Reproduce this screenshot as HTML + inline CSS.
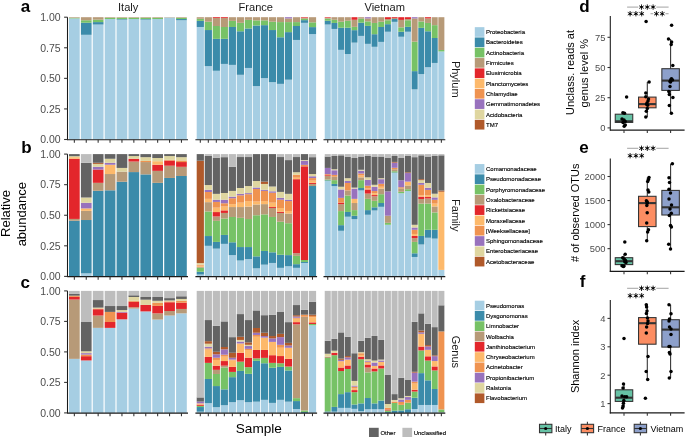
<!DOCTYPE html>
<html><head><meta charset="utf-8"><style>
html,body{margin:0;padding:0;background:#fff;}
svg{display:block;font-family:"Liberation Sans", sans-serif;will-change:transform;}
</style></head><body>
<svg width="685" height="437" viewBox="0 0 685 437">
<rect width="685" height="437" fill="#fff"/>
<rect x="69" y="18.42" width="10.71" height="121.08" fill="#A6CEE3"/>
<rect x="69" y="17.81" width="10.71" height="0.61" fill="#77C266"/>
<rect x="69" y="17.2" width="10.71" height="0.61" fill="#B79A78"/>
<rect x="80.9" y="34.81" width="10.71" height="104.69" fill="#A6CEE3"/>
<rect x="80.9" y="22.7" width="10.71" height="12.11" fill="#3B8BAA"/>
<rect x="80.9" y="20.26" width="10.71" height="2.45" fill="#77C266"/>
<rect x="80.9" y="17.2" width="10.71" height="3.06" fill="#B79A78"/>
<rect x="92.8" y="24.54" width="10.71" height="114.96" fill="#A6CEE3"/>
<rect x="92.8" y="22.09" width="10.71" height="2.45" fill="#3B8BAA"/>
<rect x="92.8" y="19.65" width="10.71" height="2.45" fill="#77C266"/>
<rect x="92.8" y="17.2" width="10.71" height="2.45" fill="#B79A78"/>
<rect x="104.7" y="19.03" width="10.71" height="120.47" fill="#A6CEE3"/>
<rect x="104.7" y="17.81" width="10.71" height="1.22" fill="#77C266"/>
<rect x="104.7" y="17.2" width="10.71" height="0.61" fill="#B79A78"/>
<rect x="116.59" y="19.65" width="10.71" height="119.85" fill="#A6CEE3"/>
<rect x="116.59" y="19.03" width="10.71" height="0.61" fill="#3B8BAA"/>
<rect x="116.59" y="17.81" width="10.71" height="1.22" fill="#77C266"/>
<rect x="116.59" y="17.2" width="10.71" height="0.61" fill="#B79A78"/>
<rect x="128.5" y="19.03" width="10.71" height="120.47" fill="#A6CEE3"/>
<rect x="128.5" y="17.81" width="10.71" height="1.22" fill="#77C266"/>
<rect x="128.5" y="17.2" width="10.71" height="0.61" fill="#B79A78"/>
<rect x="140.4" y="19.65" width="10.71" height="119.85" fill="#A6CEE3"/>
<rect x="140.4" y="19.03" width="10.71" height="0.61" fill="#3B8BAA"/>
<rect x="140.4" y="17.81" width="10.71" height="1.22" fill="#77C266"/>
<rect x="140.4" y="17.2" width="10.71" height="0.61" fill="#B79A78"/>
<rect x="152.29" y="19.03" width="10.71" height="120.47" fill="#A6CEE3"/>
<rect x="152.29" y="17.81" width="10.71" height="1.22" fill="#77C266"/>
<rect x="152.29" y="17.2" width="10.71" height="0.61" fill="#B79A78"/>
<rect x="164.2" y="17.57" width="10.71" height="121.93" fill="#A6CEE3"/>
<rect x="164.2" y="17.2" width="10.71" height="0.37" fill="#B79A78"/>
<rect x="176.09" y="20.26" width="10.71" height="119.24" fill="#A6CEE3"/>
<rect x="176.09" y="19.03" width="10.71" height="1.22" fill="#3B8BAA"/>
<rect x="176.09" y="17.81" width="10.71" height="1.22" fill="#77C266"/>
<rect x="176.09" y="17.2" width="10.71" height="0.61" fill="#B79A78"/>
<line x1="67.5" y1="139.7" x2="188" y2="139.7" stroke="#1a1a1a" stroke-width="1.07"/>
<line x1="74.35" y1="139.7" x2="74.35" y2="142.8" stroke="#333333" stroke-width="1.07"/>
<line x1="86.25" y1="139.7" x2="86.25" y2="142.8" stroke="#333333" stroke-width="1.07"/>
<line x1="98.15" y1="139.7" x2="98.15" y2="142.8" stroke="#333333" stroke-width="1.07"/>
<line x1="110.05" y1="139.7" x2="110.05" y2="142.8" stroke="#333333" stroke-width="1.07"/>
<line x1="121.95" y1="139.7" x2="121.95" y2="142.8" stroke="#333333" stroke-width="1.07"/>
<line x1="133.85" y1="139.7" x2="133.85" y2="142.8" stroke="#333333" stroke-width="1.07"/>
<line x1="145.75" y1="139.7" x2="145.75" y2="142.8" stroke="#333333" stroke-width="1.07"/>
<line x1="157.65" y1="139.7" x2="157.65" y2="142.8" stroke="#333333" stroke-width="1.07"/>
<line x1="169.55" y1="139.7" x2="169.55" y2="142.8" stroke="#333333" stroke-width="1.07"/>
<line x1="181.45" y1="139.7" x2="181.45" y2="142.8" stroke="#333333" stroke-width="1.07"/>
<rect x="196.7" y="26.98" width="7.21" height="112.52" fill="#A6CEE3"/>
<rect x="196.7" y="20.87" width="7.21" height="6.11" fill="#3B8BAA"/>
<rect x="196.7" y="18.79" width="7.21" height="2.08" fill="#77C266"/>
<rect x="196.7" y="17.2" width="7.21" height="1.59" fill="#B79A78"/>
<rect x="204.71" y="66.12" width="7.21" height="73.38" fill="#A6CEE3"/>
<rect x="204.71" y="30.04" width="7.21" height="36.08" fill="#3B8BAA"/>
<rect x="204.71" y="21.73" width="7.21" height="8.32" fill="#77C266"/>
<rect x="204.71" y="17.2" width="7.21" height="4.53" fill="#B79A78"/>
<rect x="212.73" y="70.77" width="7.21" height="68.73" fill="#A6CEE3"/>
<rect x="212.73" y="38.85" width="7.21" height="31.92" fill="#3B8BAA"/>
<rect x="212.73" y="26.01" width="7.21" height="12.84" fill="#77C266"/>
<rect x="212.73" y="18.06" width="7.21" height="7.95" fill="#B79A78"/>
<rect x="212.73" y="17.2" width="7.21" height="0.86" fill="#E3262B"/>
<rect x="220.74" y="63.92" width="7.21" height="75.58" fill="#A6CEE3"/>
<rect x="220.74" y="38.85" width="7.21" height="25.07" fill="#3B8BAA"/>
<rect x="220.74" y="26.98" width="7.21" height="11.86" fill="#77C266"/>
<rect x="220.74" y="18.06" width="7.21" height="8.93" fill="#B79A78"/>
<rect x="220.74" y="17.2" width="7.21" height="0.86" fill="#E3262B"/>
<rect x="228.75" y="64.9" width="7.21" height="74.6" fill="#A6CEE3"/>
<rect x="228.75" y="26.98" width="7.21" height="37.91" fill="#3B8BAA"/>
<rect x="228.75" y="20.87" width="7.21" height="6.11" fill="#77C266"/>
<rect x="228.75" y="17.2" width="7.21" height="3.67" fill="#B79A78"/>
<rect x="236.77" y="74.8" width="7.21" height="64.7" fill="#A6CEE3"/>
<rect x="236.77" y="31.26" width="7.21" height="43.54" fill="#3B8BAA"/>
<rect x="236.77" y="22.83" width="7.21" height="8.44" fill="#77C266"/>
<rect x="236.77" y="17.2" width="7.21" height="5.63" fill="#B79A78"/>
<rect x="244.78" y="67.95" width="7.21" height="71.55" fill="#A6CEE3"/>
<rect x="244.78" y="28.45" width="7.21" height="39.5" fill="#3B8BAA"/>
<rect x="244.78" y="19.89" width="7.21" height="8.56" fill="#77C266"/>
<rect x="244.78" y="17.2" width="7.21" height="2.69" fill="#B79A78"/>
<rect x="252.79" y="86.05" width="7.21" height="53.45" fill="#A6CEE3"/>
<rect x="252.79" y="25.52" width="7.21" height="60.54" fill="#3B8BAA"/>
<rect x="252.79" y="20.38" width="7.21" height="5.14" fill="#77C266"/>
<rect x="252.79" y="17.2" width="7.21" height="3.18" fill="#B79A78"/>
<rect x="260.81" y="78.11" width="7.21" height="61.39" fill="#A6CEE3"/>
<rect x="260.81" y="25.15" width="7.21" height="52.96" fill="#3B8BAA"/>
<rect x="260.81" y="20.38" width="7.21" height="4.77" fill="#77C266"/>
<rect x="260.81" y="17.2" width="7.21" height="3.18" fill="#B79A78"/>
<rect x="268.82" y="82.14" width="7.21" height="57.36" fill="#A6CEE3"/>
<rect x="268.82" y="30.04" width="7.21" height="52.1" fill="#3B8BAA"/>
<rect x="268.82" y="21.73" width="7.21" height="8.32" fill="#77C266"/>
<rect x="268.82" y="17.2" width="7.21" height="4.53" fill="#B79A78"/>
<rect x="276.83" y="83.85" width="7.21" height="55.65" fill="#A6CEE3"/>
<rect x="276.83" y="37.26" width="7.21" height="46.6" fill="#3B8BAA"/>
<rect x="276.83" y="22.09" width="7.21" height="15.17" fill="#77C266"/>
<rect x="276.83" y="17.2" width="7.21" height="4.89" fill="#B79A78"/>
<rect x="284.85" y="79.7" width="7.21" height="59.8" fill="#A6CEE3"/>
<rect x="284.85" y="32.12" width="7.21" height="47.57" fill="#3B8BAA"/>
<rect x="284.85" y="22.09" width="7.21" height="10.03" fill="#77C266"/>
<rect x="284.85" y="18.42" width="7.21" height="3.67" fill="#B79A78"/>
<rect x="284.85" y="17.2" width="7.21" height="1.22" fill="#9872BD"/>
<rect x="292.86" y="39.95" width="7.21" height="99.55" fill="#A6CEE3"/>
<rect x="292.86" y="26.01" width="7.21" height="13.94" fill="#3B8BAA"/>
<rect x="292.86" y="22.09" width="7.21" height="3.91" fill="#77C266"/>
<rect x="292.86" y="17.2" width="7.21" height="4.89" fill="#B79A78"/>
<rect x="300.87" y="22.83" width="7.21" height="116.67" fill="#A6CEE3"/>
<rect x="300.87" y="20.14" width="7.21" height="2.69" fill="#3B8BAA"/>
<rect x="300.87" y="18.79" width="7.21" height="1.35" fill="#77C266"/>
<rect x="300.87" y="17.81" width="7.21" height="0.98" fill="#B79A78"/>
<rect x="300.87" y="17.2" width="7.21" height="0.61" fill="#E3262B"/>
<rect x="308.89" y="34.08" width="7.21" height="105.42" fill="#A6CEE3"/>
<rect x="308.89" y="27.11" width="7.21" height="6.97" fill="#3B8BAA"/>
<rect x="308.89" y="22.34" width="7.21" height="4.77" fill="#77C266"/>
<rect x="308.89" y="17.2" width="7.21" height="5.14" fill="#B79A78"/>
<line x1="195.4" y1="139.7" x2="317.1" y2="139.7" stroke="#1a1a1a" stroke-width="1.07"/>
<line x1="200.31" y1="139.7" x2="200.31" y2="142.8" stroke="#333333" stroke-width="1.07"/>
<line x1="208.32" y1="139.7" x2="208.32" y2="142.8" stroke="#333333" stroke-width="1.07"/>
<line x1="216.33" y1="139.7" x2="216.33" y2="142.8" stroke="#333333" stroke-width="1.07"/>
<line x1="224.35" y1="139.7" x2="224.35" y2="142.8" stroke="#333333" stroke-width="1.07"/>
<line x1="232.36" y1="139.7" x2="232.36" y2="142.8" stroke="#333333" stroke-width="1.07"/>
<line x1="240.37" y1="139.7" x2="240.37" y2="142.8" stroke="#333333" stroke-width="1.07"/>
<line x1="248.39" y1="139.7" x2="248.39" y2="142.8" stroke="#333333" stroke-width="1.07"/>
<line x1="256.4" y1="139.7" x2="256.4" y2="142.8" stroke="#333333" stroke-width="1.07"/>
<line x1="264.41" y1="139.7" x2="264.41" y2="142.8" stroke="#333333" stroke-width="1.07"/>
<line x1="272.43" y1="139.7" x2="272.43" y2="142.8" stroke="#333333" stroke-width="1.07"/>
<line x1="280.44" y1="139.7" x2="280.44" y2="142.8" stroke="#333333" stroke-width="1.07"/>
<line x1="288.45" y1="139.7" x2="288.45" y2="142.8" stroke="#333333" stroke-width="1.07"/>
<line x1="296.47" y1="139.7" x2="296.47" y2="142.8" stroke="#333333" stroke-width="1.07"/>
<line x1="304.48" y1="139.7" x2="304.48" y2="142.8" stroke="#333333" stroke-width="1.07"/>
<line x1="312.49" y1="139.7" x2="312.49" y2="142.8" stroke="#333333" stroke-width="1.07"/>
<rect x="324.73" y="24.54" width="6.02" height="114.96" fill="#A6CEE3"/>
<rect x="324.73" y="20.75" width="6.02" height="3.79" fill="#3B8BAA"/>
<rect x="324.73" y="18.67" width="6.02" height="2.08" fill="#77C266"/>
<rect x="324.73" y="17.81" width="6.02" height="0.86" fill="#B79A78"/>
<rect x="324.73" y="17.2" width="6.02" height="0.61" fill="#E3262B"/>
<rect x="331.42" y="28.94" width="6.02" height="110.56" fill="#A6CEE3"/>
<rect x="331.42" y="22.95" width="6.02" height="5.99" fill="#3B8BAA"/>
<rect x="331.42" y="19.77" width="6.02" height="3.18" fill="#77C266"/>
<rect x="331.42" y="17.2" width="6.02" height="2.57" fill="#B79A78"/>
<rect x="338.1" y="49.85" width="6.02" height="89.65" fill="#A6CEE3"/>
<rect x="338.1" y="27.72" width="6.02" height="22.14" fill="#3B8BAA"/>
<rect x="338.1" y="21.73" width="6.02" height="5.99" fill="#77C266"/>
<rect x="338.1" y="17.2" width="6.02" height="4.53" fill="#B79A78"/>
<rect x="344.78" y="54.01" width="6.02" height="85.49" fill="#A6CEE3"/>
<rect x="344.78" y="27.72" width="6.02" height="26.29" fill="#3B8BAA"/>
<rect x="344.78" y="20.75" width="6.02" height="6.97" fill="#77C266"/>
<rect x="344.78" y="17.2" width="6.02" height="3.55" fill="#B79A78"/>
<rect x="351.47" y="42.64" width="6.02" height="96.86" fill="#A6CEE3"/>
<rect x="351.47" y="30.16" width="6.02" height="12.47" fill="#3B8BAA"/>
<rect x="351.47" y="26.86" width="6.02" height="3.3" fill="#77C266"/>
<rect x="351.47" y="19.77" width="6.02" height="7.09" fill="#B79A78"/>
<rect x="351.47" y="17.2" width="6.02" height="2.57" fill="#E3262B"/>
<rect x="358.15" y="35.91" width="6.02" height="103.59" fill="#A6CEE3"/>
<rect x="358.15" y="22.7" width="6.02" height="13.21" fill="#3B8BAA"/>
<rect x="358.15" y="18.67" width="6.02" height="4.04" fill="#77C266"/>
<rect x="358.15" y="17.2" width="6.02" height="1.47" fill="#B79A78"/>
<rect x="364.83" y="43.86" width="6.02" height="95.64" fill="#A6CEE3"/>
<rect x="364.83" y="25.88" width="6.02" height="17.98" fill="#3B8BAA"/>
<rect x="364.83" y="21.36" width="6.02" height="4.53" fill="#77C266"/>
<rect x="364.83" y="18.42" width="6.02" height="2.94" fill="#B79A78"/>
<rect x="364.83" y="17.2" width="6.02" height="1.22" fill="#9872BD"/>
<rect x="371.52" y="46.8" width="6.02" height="92.7" fill="#A6CEE3"/>
<rect x="371.52" y="34.2" width="6.02" height="12.6" fill="#3B8BAA"/>
<rect x="371.52" y="22.95" width="6.02" height="11.25" fill="#77C266"/>
<rect x="371.52" y="17.2" width="6.02" height="5.75" fill="#B79A78"/>
<rect x="378.2" y="41.9" width="6.02" height="97.6" fill="#A6CEE3"/>
<rect x="378.2" y="26.98" width="6.02" height="14.92" fill="#3B8BAA"/>
<rect x="378.2" y="21.73" width="6.02" height="5.26" fill="#77C266"/>
<rect x="378.2" y="17.2" width="6.02" height="4.53" fill="#B79A78"/>
<rect x="384.88" y="31.75" width="6.02" height="107.75" fill="#A6CEE3"/>
<rect x="384.88" y="24.17" width="6.02" height="7.58" fill="#3B8BAA"/>
<rect x="384.88" y="20.26" width="6.02" height="3.91" fill="#77C266"/>
<rect x="384.88" y="19.03" width="6.02" height="1.22" fill="#B79A78"/>
<rect x="384.88" y="17.2" width="6.02" height="1.83" fill="#E3262B"/>
<rect x="391.57" y="21.85" width="6.02" height="117.65" fill="#A6CEE3"/>
<rect x="391.57" y="19.03" width="6.02" height="2.81" fill="#3B8BAA"/>
<rect x="391.57" y="18.42" width="6.02" height="0.61" fill="#77C266"/>
<rect x="391.57" y="17.2" width="6.02" height="1.22" fill="#E3262B"/>
<rect x="398.25" y="36.77" width="6.02" height="102.73" fill="#A6CEE3"/>
<rect x="398.25" y="31.75" width="6.02" height="5.01" fill="#3B8BAA"/>
<rect x="398.25" y="27.35" width="6.02" height="4.4" fill="#77C266"/>
<rect x="398.25" y="19.89" width="6.02" height="7.46" fill="#B79A78"/>
<rect x="398.25" y="17.2" width="6.02" height="2.69" fill="#E3262B"/>
<rect x="404.93" y="31.75" width="6.02" height="107.75" fill="#A6CEE3"/>
<rect x="404.93" y="26.86" width="6.02" height="4.89" fill="#3B8BAA"/>
<rect x="404.93" y="20.26" width="6.02" height="6.6" fill="#77C266"/>
<rect x="404.93" y="19.03" width="6.02" height="1.22" fill="#B79A78"/>
<rect x="404.93" y="17.2" width="6.02" height="1.83" fill="#E3262B"/>
<rect x="411.62" y="89.36" width="6.02" height="50.14" fill="#A6CEE3"/>
<rect x="411.62" y="71.13" width="6.02" height="18.22" fill="#3B8BAA"/>
<rect x="411.62" y="41.66" width="6.02" height="29.47" fill="#77C266"/>
<rect x="411.62" y="18.42" width="6.02" height="23.24" fill="#B79A78"/>
<rect x="411.62" y="17.2" width="6.02" height="1.22" fill="#9872BD"/>
<rect x="418.3" y="74.07" width="6.02" height="65.43" fill="#A6CEE3"/>
<rect x="418.3" y="27.84" width="6.02" height="46.23" fill="#3B8BAA"/>
<rect x="418.3" y="21.48" width="6.02" height="6.36" fill="#77C266"/>
<rect x="418.3" y="17.2" width="6.02" height="4.28" fill="#B79A78"/>
<rect x="424.98" y="67.22" width="6.02" height="72.28" fill="#A6CEE3"/>
<rect x="424.98" y="31.26" width="6.02" height="35.96" fill="#3B8BAA"/>
<rect x="424.98" y="22.95" width="6.02" height="8.32" fill="#77C266"/>
<rect x="424.98" y="18.42" width="6.02" height="4.53" fill="#B79A78"/>
<rect x="424.98" y="17.2" width="6.02" height="1.22" fill="#E3262B"/>
<rect x="431.67" y="62.94" width="6.02" height="76.56" fill="#A6CEE3"/>
<rect x="431.67" y="37.99" width="6.02" height="24.95" fill="#3B8BAA"/>
<rect x="431.67" y="25.15" width="6.02" height="12.84" fill="#77C266"/>
<rect x="431.67" y="17.2" width="6.02" height="7.95" fill="#B79A78"/>
<rect x="438.35" y="51.44" width="6.02" height="88.06" fill="#A6CEE3"/>
<rect x="438.35" y="49.98" width="6.02" height="1.47" fill="#77C266"/>
<rect x="438.35" y="17.2" width="6.02" height="32.78" fill="#B79A78"/>
<line x1="323.5" y1="139.7" x2="445.3" y2="139.7" stroke="#1a1a1a" stroke-width="1.07"/>
<line x1="327.74" y1="139.7" x2="327.74" y2="142.8" stroke="#333333" stroke-width="1.07"/>
<line x1="334.42" y1="139.7" x2="334.42" y2="142.8" stroke="#333333" stroke-width="1.07"/>
<line x1="341.11" y1="139.7" x2="341.11" y2="142.8" stroke="#333333" stroke-width="1.07"/>
<line x1="347.79" y1="139.7" x2="347.79" y2="142.8" stroke="#333333" stroke-width="1.07"/>
<line x1="354.47" y1="139.7" x2="354.47" y2="142.8" stroke="#333333" stroke-width="1.07"/>
<line x1="361.16" y1="139.7" x2="361.16" y2="142.8" stroke="#333333" stroke-width="1.07"/>
<line x1="367.84" y1="139.7" x2="367.84" y2="142.8" stroke="#333333" stroke-width="1.07"/>
<line x1="374.52" y1="139.7" x2="374.52" y2="142.8" stroke="#333333" stroke-width="1.07"/>
<line x1="381.21" y1="139.7" x2="381.21" y2="142.8" stroke="#333333" stroke-width="1.07"/>
<line x1="387.89" y1="139.7" x2="387.89" y2="142.8" stroke="#333333" stroke-width="1.07"/>
<line x1="394.57" y1="139.7" x2="394.57" y2="142.8" stroke="#333333" stroke-width="1.07"/>
<line x1="401.26" y1="139.7" x2="401.26" y2="142.8" stroke="#333333" stroke-width="1.07"/>
<line x1="407.94" y1="139.7" x2="407.94" y2="142.8" stroke="#333333" stroke-width="1.07"/>
<line x1="414.62" y1="139.7" x2="414.62" y2="142.8" stroke="#333333" stroke-width="1.07"/>
<line x1="421.31" y1="139.7" x2="421.31" y2="142.8" stroke="#333333" stroke-width="1.07"/>
<line x1="427.99" y1="139.7" x2="427.99" y2="142.8" stroke="#333333" stroke-width="1.07"/>
<line x1="434.67" y1="139.7" x2="434.67" y2="142.8" stroke="#333333" stroke-width="1.07"/>
<line x1="441.36" y1="139.7" x2="441.36" y2="142.8" stroke="#333333" stroke-width="1.07"/>
<line x1="67.5" y1="17.2" x2="67.5" y2="140.2" stroke="#1a1a1a" stroke-width="1.07"/>
<line x1="64.1" y1="139.5" x2="67.5" y2="139.5" stroke="#333333" stroke-width="1.07"/>
<text x="60.6" y="143.3" font-size="10.5" fill="#4d4d4d" text-anchor="end">0.00</text>
<line x1="64.1" y1="108.92" x2="67.5" y2="108.92" stroke="#333333" stroke-width="1.07"/>
<text x="60.6" y="112.72" font-size="10.5" fill="#4d4d4d" text-anchor="end">0.25</text>
<line x1="64.1" y1="78.35" x2="67.5" y2="78.35" stroke="#333333" stroke-width="1.07"/>
<text x="60.6" y="82.15" font-size="10.5" fill="#4d4d4d" text-anchor="end">0.50</text>
<line x1="64.1" y1="47.78" x2="67.5" y2="47.78" stroke="#333333" stroke-width="1.07"/>
<text x="60.6" y="51.58" font-size="10.5" fill="#4d4d4d" text-anchor="end">0.75</text>
<line x1="64.1" y1="17.2" x2="67.5" y2="17.2" stroke="#333333" stroke-width="1.07"/>
<text x="60.6" y="21" font-size="10.5" fill="#4d4d4d" text-anchor="end">1.00</text>
<rect x="69" y="220.75" width="10.71" height="55.65" fill="#3B8BAA"/>
<rect x="69" y="218.92" width="10.71" height="1.83" fill="#B79A78"/>
<rect x="69" y="158.75" width="10.71" height="60.17" fill="#E3262B"/>
<rect x="69" y="157.16" width="10.71" height="1.59" fill="#FDB96B"/>
<rect x="69" y="156.18" width="10.71" height="0.98" fill="#DFD6A0"/>
<rect x="69" y="154.1" width="10.71" height="2.08" fill="#636363"/>
<rect x="80.9" y="273.34" width="10.71" height="3.06" fill="#A6CEE3"/>
<rect x="80.9" y="220.02" width="10.71" height="53.32" fill="#3B8BAA"/>
<rect x="80.9" y="210.85" width="10.71" height="9.17" fill="#B79A78"/>
<rect x="80.9" y="208.4" width="10.71" height="2.45" fill="#FDB96B"/>
<rect x="80.9" y="202.78" width="10.71" height="5.63" fill="#9872BD"/>
<rect x="80.9" y="197.52" width="10.71" height="5.26" fill="#DFD6A0"/>
<rect x="80.9" y="162.78" width="10.71" height="34.73" fill="#636363"/>
<rect x="80.9" y="154.1" width="10.71" height="8.68" fill="#BDBDBD"/>
<rect x="92.8" y="190.79" width="10.71" height="85.61" fill="#3B8BAA"/>
<rect x="92.8" y="182.84" width="10.71" height="7.95" fill="#B79A78"/>
<rect x="92.8" y="169.51" width="10.71" height="13.33" fill="#E3262B"/>
<rect x="92.8" y="166.82" width="10.71" height="2.69" fill="#9872BD"/>
<rect x="92.8" y="163.88" width="10.71" height="2.94" fill="#DFD6A0"/>
<rect x="92.8" y="162.78" width="10.71" height="1.1" fill="#B0592A"/>
<rect x="92.8" y="154.1" width="10.71" height="8.68" fill="#636363"/>
<rect x="104.7" y="190.3" width="10.71" height="86.1" fill="#3B8BAA"/>
<rect x="104.7" y="174.03" width="10.71" height="16.27" fill="#B79A78"/>
<rect x="104.7" y="164.74" width="10.71" height="9.29" fill="#FDB96B"/>
<rect x="104.7" y="162.78" width="10.71" height="1.96" fill="#9872BD"/>
<rect x="104.7" y="158.75" width="10.71" height="4.04" fill="#DFD6A0"/>
<rect x="104.7" y="154.1" width="10.71" height="4.65" fill="#636363"/>
<rect x="116.59" y="181.74" width="10.71" height="94.66" fill="#3B8BAA"/>
<rect x="116.59" y="171.59" width="10.71" height="10.15" fill="#B79A78"/>
<rect x="116.59" y="167.92" width="10.71" height="3.67" fill="#DFD6A0"/>
<rect x="116.59" y="154.1" width="10.71" height="13.82" fill="#636363"/>
<rect x="128.5" y="172.08" width="10.71" height="104.32" fill="#3B8BAA"/>
<rect x="128.5" y="161.56" width="10.71" height="10.52" fill="#B79A78"/>
<rect x="128.5" y="158.75" width="10.71" height="2.81" fill="#E3262B"/>
<rect x="128.5" y="156.06" width="10.71" height="2.69" fill="#DFD6A0"/>
<rect x="128.5" y="154.1" width="10.71" height="1.96" fill="#636363"/>
<rect x="140.4" y="174.4" width="10.71" height="102" fill="#3B8BAA"/>
<rect x="140.4" y="162.05" width="10.71" height="12.35" fill="#B79A78"/>
<rect x="140.4" y="160.95" width="10.71" height="1.1" fill="#EF9350"/>
<rect x="140.4" y="157.16" width="10.71" height="3.79" fill="#DFD6A0"/>
<rect x="140.4" y="154.1" width="10.71" height="3.06" fill="#636363"/>
<rect x="152.29" y="182.84" width="10.71" height="93.56" fill="#3B8BAA"/>
<rect x="152.29" y="170.86" width="10.71" height="11.99" fill="#B79A78"/>
<rect x="152.29" y="164.74" width="10.71" height="6.12" fill="#E3262B"/>
<rect x="152.29" y="161.19" width="10.71" height="3.55" fill="#FDB96B"/>
<rect x="152.29" y="158.01" width="10.71" height="3.18" fill="#DFD6A0"/>
<rect x="152.29" y="154.1" width="10.71" height="3.91" fill="#636363"/>
<rect x="164.2" y="177.95" width="10.71" height="98.45" fill="#3B8BAA"/>
<rect x="164.2" y="165.72" width="10.71" height="12.23" fill="#B79A78"/>
<rect x="164.2" y="160.58" width="10.71" height="5.14" fill="#E3262B"/>
<rect x="164.2" y="159.85" width="10.71" height="0.73" fill="#EF9350"/>
<rect x="164.2" y="156.06" width="10.71" height="3.79" fill="#DFD6A0"/>
<rect x="164.2" y="154.1" width="10.71" height="1.96" fill="#636363"/>
<rect x="176.09" y="175.99" width="10.71" height="100.41" fill="#3B8BAA"/>
<rect x="176.09" y="166.82" width="10.71" height="9.17" fill="#B79A78"/>
<rect x="176.09" y="162.05" width="10.71" height="4.77" fill="#E3262B"/>
<rect x="176.09" y="160.46" width="10.71" height="1.59" fill="#EF9350"/>
<rect x="176.09" y="157.16" width="10.71" height="3.3" fill="#DFD6A0"/>
<rect x="176.09" y="154.1" width="10.71" height="3.06" fill="#636363"/>
<line x1="67.5" y1="276.6" x2="188" y2="276.6" stroke="#1a1a1a" stroke-width="1.07"/>
<line x1="74.35" y1="276.6" x2="74.35" y2="279.7" stroke="#333333" stroke-width="1.07"/>
<line x1="86.25" y1="276.6" x2="86.25" y2="279.7" stroke="#333333" stroke-width="1.07"/>
<line x1="98.15" y1="276.6" x2="98.15" y2="279.7" stroke="#333333" stroke-width="1.07"/>
<line x1="110.05" y1="276.6" x2="110.05" y2="279.7" stroke="#333333" stroke-width="1.07"/>
<line x1="121.95" y1="276.6" x2="121.95" y2="279.7" stroke="#333333" stroke-width="1.07"/>
<line x1="133.85" y1="276.6" x2="133.85" y2="279.7" stroke="#333333" stroke-width="1.07"/>
<line x1="145.75" y1="276.6" x2="145.75" y2="279.7" stroke="#333333" stroke-width="1.07"/>
<line x1="157.65" y1="276.6" x2="157.65" y2="279.7" stroke="#333333" stroke-width="1.07"/>
<line x1="169.55" y1="276.6" x2="169.55" y2="279.7" stroke="#333333" stroke-width="1.07"/>
<line x1="181.45" y1="276.6" x2="181.45" y2="279.7" stroke="#333333" stroke-width="1.07"/>
<rect x="196.7" y="274.57" width="7.21" height="1.83" fill="#A6CEE3"/>
<rect x="196.7" y="271.75" width="7.21" height="2.81" fill="#3B8BAA"/>
<rect x="196.7" y="267.72" width="7.21" height="4.04" fill="#77C266"/>
<rect x="196.7" y="266.86" width="7.21" height="0.86" fill="#B79A78"/>
<rect x="196.7" y="265.64" width="7.21" height="1.22" fill="#FDB96B"/>
<rect x="196.7" y="264.66" width="7.21" height="0.98" fill="#EF9350"/>
<rect x="196.7" y="263.07" width="7.21" height="1.59" fill="#DFD6A0"/>
<rect x="196.7" y="160.7" width="7.21" height="102.37" fill="#B0592A"/>
<rect x="196.7" y="154.1" width="7.21" height="6.6" fill="#636363"/>
<rect x="204.71" y="245.82" width="7.21" height="30.57" fill="#A6CEE3"/>
<rect x="204.71" y="236.04" width="7.21" height="9.78" fill="#3B8BAA"/>
<rect x="204.71" y="211.46" width="7.21" height="24.58" fill="#77C266"/>
<rect x="204.71" y="202.16" width="7.21" height="9.29" fill="#B79A78"/>
<rect x="204.71" y="198.86" width="7.21" height="3.3" fill="#FDB96B"/>
<rect x="204.71" y="192.01" width="7.21" height="6.85" fill="#EF9350"/>
<rect x="204.71" y="189.81" width="7.21" height="2.2" fill="#9872BD"/>
<rect x="204.71" y="185.04" width="7.21" height="4.77" fill="#DFD6A0"/>
<rect x="204.71" y="155.93" width="7.21" height="29.11" fill="#636363"/>
<rect x="204.71" y="154.1" width="7.21" height="1.83" fill="#BDBDBD"/>
<rect x="212.73" y="248.64" width="7.21" height="27.76" fill="#A6CEE3"/>
<rect x="212.73" y="241.91" width="7.21" height="6.73" fill="#3B8BAA"/>
<rect x="212.73" y="220.88" width="7.21" height="21.04" fill="#77C266"/>
<rect x="212.73" y="216.47" width="7.21" height="4.4" fill="#B79A78"/>
<rect x="212.73" y="212.07" width="7.21" height="4.4" fill="#E3262B"/>
<rect x="212.73" y="207.67" width="7.21" height="4.4" fill="#FDB96B"/>
<rect x="212.73" y="201.92" width="7.21" height="5.75" fill="#EF9350"/>
<rect x="212.73" y="199.72" width="7.21" height="2.2" fill="#9872BD"/>
<rect x="212.73" y="193.85" width="7.21" height="5.87" fill="#DFD6A0"/>
<rect x="212.73" y="157.65" width="7.21" height="36.2" fill="#636363"/>
<rect x="212.73" y="154.1" width="7.21" height="3.55" fill="#BDBDBD"/>
<rect x="220.74" y="243.87" width="7.21" height="32.53" fill="#A6CEE3"/>
<rect x="220.74" y="234.94" width="7.21" height="8.93" fill="#3B8BAA"/>
<rect x="220.74" y="218.55" width="7.21" height="16.39" fill="#77C266"/>
<rect x="220.74" y="212.93" width="7.21" height="5.63" fill="#B79A78"/>
<rect x="220.74" y="210.36" width="7.21" height="2.57" fill="#E3262B"/>
<rect x="220.74" y="206.57" width="7.21" height="3.79" fill="#FDB96B"/>
<rect x="220.74" y="203.26" width="7.21" height="3.3" fill="#EF9350"/>
<rect x="220.74" y="199.72" width="7.21" height="3.55" fill="#9872BD"/>
<rect x="220.74" y="192.99" width="7.21" height="6.73" fill="#DFD6A0"/>
<rect x="220.74" y="157.16" width="7.21" height="35.83" fill="#636363"/>
<rect x="220.74" y="154.1" width="7.21" height="3.06" fill="#BDBDBD"/>
<rect x="228.75" y="255.12" width="7.21" height="21.28" fill="#A6CEE3"/>
<rect x="228.75" y="242.28" width="7.21" height="12.84" fill="#3B8BAA"/>
<rect x="228.75" y="216.96" width="7.21" height="25.32" fill="#77C266"/>
<rect x="228.75" y="207.06" width="7.21" height="9.91" fill="#B79A78"/>
<rect x="228.75" y="204.12" width="7.21" height="2.94" fill="#FDB96B"/>
<rect x="228.75" y="198.25" width="7.21" height="5.87" fill="#EF9350"/>
<rect x="228.75" y="196.66" width="7.21" height="1.59" fill="#9872BD"/>
<rect x="228.75" y="190.91" width="7.21" height="5.75" fill="#DFD6A0"/>
<rect x="228.75" y="166.7" width="7.21" height="24.22" fill="#636363"/>
<rect x="228.75" y="154.1" width="7.21" height="12.6" fill="#BDBDBD"/>
<rect x="236.77" y="260.5" width="7.21" height="15.9" fill="#A6CEE3"/>
<rect x="236.77" y="247.05" width="7.21" height="13.45" fill="#3B8BAA"/>
<rect x="236.77" y="217.82" width="7.21" height="29.23" fill="#77C266"/>
<rect x="236.77" y="207.06" width="7.21" height="10.76" fill="#B79A78"/>
<rect x="236.77" y="202.65" width="7.21" height="4.4" fill="#FDB96B"/>
<rect x="236.77" y="195.32" width="7.21" height="7.34" fill="#EF9350"/>
<rect x="236.77" y="193.85" width="7.21" height="1.47" fill="#9872BD"/>
<rect x="236.77" y="187.98" width="7.21" height="5.87" fill="#DFD6A0"/>
<rect x="236.77" y="157.04" width="7.21" height="30.94" fill="#636363"/>
<rect x="236.77" y="154.1" width="7.21" height="2.94" fill="#BDBDBD"/>
<rect x="244.78" y="259.03" width="7.21" height="17.37" fill="#A6CEE3"/>
<rect x="244.78" y="247.05" width="7.21" height="11.99" fill="#3B8BAA"/>
<rect x="244.78" y="219.04" width="7.21" height="28.01" fill="#77C266"/>
<rect x="244.78" y="206.57" width="7.21" height="12.47" fill="#B79A78"/>
<rect x="244.78" y="201.06" width="7.21" height="5.5" fill="#FDB96B"/>
<rect x="244.78" y="194.21" width="7.21" height="6.85" fill="#EF9350"/>
<rect x="244.78" y="193.11" width="7.21" height="1.1" fill="#9872BD"/>
<rect x="244.78" y="186.02" width="7.21" height="7.09" fill="#DFD6A0"/>
<rect x="244.78" y="157.04" width="7.21" height="28.99" fill="#636363"/>
<rect x="244.78" y="154.1" width="7.21" height="2.94" fill="#BDBDBD"/>
<rect x="252.79" y="268.33" width="7.21" height="8.07" fill="#A6CEE3"/>
<rect x="252.79" y="256.34" width="7.21" height="11.99" fill="#3B8BAA"/>
<rect x="252.79" y="215.25" width="7.21" height="41.09" fill="#77C266"/>
<rect x="252.79" y="204.49" width="7.21" height="10.76" fill="#B79A78"/>
<rect x="252.79" y="201.55" width="7.21" height="2.94" fill="#FDB96B"/>
<rect x="252.79" y="188.96" width="7.21" height="12.6" fill="#EF9350"/>
<rect x="252.79" y="187.49" width="7.21" height="1.47" fill="#9872BD"/>
<rect x="252.79" y="181.01" width="7.21" height="6.48" fill="#DFD6A0"/>
<rect x="252.79" y="154.1" width="7.21" height="26.91" fill="#636363"/>
<rect x="260.81" y="264.66" width="7.21" height="11.74" fill="#A6CEE3"/>
<rect x="260.81" y="250.96" width="7.21" height="13.7" fill="#3B8BAA"/>
<rect x="260.81" y="214.39" width="7.21" height="36.57" fill="#77C266"/>
<rect x="260.81" y="204.12" width="7.21" height="10.27" fill="#B79A78"/>
<rect x="260.81" y="201.06" width="7.21" height="3.06" fill="#FDB96B"/>
<rect x="260.81" y="190.91" width="7.21" height="10.15" fill="#EF9350"/>
<rect x="260.81" y="189.81" width="7.21" height="1.1" fill="#9872BD"/>
<rect x="260.81" y="183.94" width="7.21" height="5.87" fill="#DFD6A0"/>
<rect x="260.81" y="181.62" width="7.21" height="2.32" fill="#B0592A"/>
<rect x="260.81" y="154.1" width="7.21" height="27.52" fill="#636363"/>
<rect x="268.82" y="262.95" width="7.21" height="13.45" fill="#A6CEE3"/>
<rect x="268.82" y="252.31" width="7.21" height="10.64" fill="#3B8BAA"/>
<rect x="268.82" y="216.96" width="7.21" height="35.34" fill="#77C266"/>
<rect x="268.82" y="208.03" width="7.21" height="8.93" fill="#B79A78"/>
<rect x="268.82" y="207.06" width="7.21" height="0.98" fill="#E3262B"/>
<rect x="268.82" y="202.65" width="7.21" height="4.4" fill="#FDB96B"/>
<rect x="268.82" y="192.75" width="7.21" height="9.91" fill="#EF9350"/>
<rect x="268.82" y="191.28" width="7.21" height="1.47" fill="#9872BD"/>
<rect x="268.82" y="186.51" width="7.21" height="4.77" fill="#DFD6A0"/>
<rect x="268.82" y="154.1" width="7.21" height="32.41" fill="#636363"/>
<rect x="276.83" y="267.84" width="7.21" height="8.56" fill="#A6CEE3"/>
<rect x="276.83" y="254.75" width="7.21" height="13.09" fill="#3B8BAA"/>
<rect x="276.83" y="221.73" width="7.21" height="33.02" fill="#77C266"/>
<rect x="276.83" y="212.93" width="7.21" height="8.81" fill="#B79A78"/>
<rect x="276.83" y="211.83" width="7.21" height="1.1" fill="#E3262B"/>
<rect x="276.83" y="208.03" width="7.21" height="3.79" fill="#FDB96B"/>
<rect x="276.83" y="199.72" width="7.21" height="8.32" fill="#EF9350"/>
<rect x="276.83" y="197.76" width="7.21" height="1.96" fill="#9872BD"/>
<rect x="276.83" y="191.89" width="7.21" height="5.87" fill="#DFD6A0"/>
<rect x="276.83" y="157.04" width="7.21" height="34.86" fill="#636363"/>
<rect x="276.83" y="154.1" width="7.21" height="2.94" fill="#BDBDBD"/>
<rect x="284.85" y="266.25" width="7.21" height="10.15" fill="#A6CEE3"/>
<rect x="284.85" y="255.12" width="7.21" height="11.13" fill="#3B8BAA"/>
<rect x="284.85" y="223.2" width="7.21" height="31.92" fill="#77C266"/>
<rect x="284.85" y="213.54" width="7.21" height="9.66" fill="#B79A78"/>
<rect x="284.85" y="210.97" width="7.21" height="2.57" fill="#FDB96B"/>
<rect x="284.85" y="201.06" width="7.21" height="9.91" fill="#EF9350"/>
<rect x="284.85" y="199.72" width="7.21" height="1.35" fill="#9872BD"/>
<rect x="284.85" y="193.85" width="7.21" height="5.87" fill="#DFD6A0"/>
<rect x="284.85" y="160.09" width="7.21" height="33.75" fill="#636363"/>
<rect x="284.85" y="154.1" width="7.21" height="5.99" fill="#BDBDBD"/>
<rect x="292.86" y="267.84" width="7.21" height="8.56" fill="#A6CEE3"/>
<rect x="292.86" y="264.17" width="7.21" height="3.67" fill="#3B8BAA"/>
<rect x="292.86" y="255.85" width="7.21" height="8.32" fill="#77C266"/>
<rect x="292.86" y="253.16" width="7.21" height="2.69" fill="#B79A78"/>
<rect x="292.86" y="179.17" width="7.21" height="73.99" fill="#E3262B"/>
<rect x="292.86" y="177.7" width="7.21" height="1.47" fill="#FDB96B"/>
<rect x="292.86" y="174.65" width="7.21" height="3.06" fill="#EF9350"/>
<rect x="292.86" y="172.2" width="7.21" height="2.45" fill="#DFD6A0"/>
<rect x="292.86" y="157.04" width="7.21" height="15.17" fill="#636363"/>
<rect x="292.86" y="154.1" width="7.21" height="2.94" fill="#BDBDBD"/>
<rect x="300.87" y="262.95" width="7.21" height="13.45" fill="#A6CEE3"/>
<rect x="300.87" y="261.97" width="7.21" height="0.98" fill="#3B8BAA"/>
<rect x="300.87" y="260.01" width="7.21" height="1.96" fill="#77C266"/>
<rect x="300.87" y="166.33" width="7.21" height="93.68" fill="#E3262B"/>
<rect x="300.87" y="164.86" width="7.21" height="1.47" fill="#EF9350"/>
<rect x="300.87" y="160.83" width="7.21" height="4.04" fill="#9872BD"/>
<rect x="300.87" y="160.09" width="7.21" height="0.73" fill="#DFD6A0"/>
<rect x="300.87" y="154.1" width="7.21" height="5.99" fill="#636363"/>
<rect x="308.89" y="186.02" width="7.21" height="90.38" fill="#3B8BAA"/>
<rect x="308.89" y="183.94" width="7.21" height="2.08" fill="#B79A78"/>
<rect x="308.89" y="182.84" width="7.21" height="1.1" fill="#E3262B"/>
<rect x="308.89" y="180.64" width="7.21" height="2.2" fill="#FDB96B"/>
<rect x="308.89" y="178.07" width="7.21" height="2.57" fill="#EF9350"/>
<rect x="308.89" y="176.24" width="7.21" height="1.83" fill="#9872BD"/>
<rect x="308.89" y="174.03" width="7.21" height="2.2" fill="#DFD6A0"/>
<rect x="308.89" y="157.16" width="7.21" height="16.88" fill="#636363"/>
<rect x="308.89" y="154.1" width="7.21" height="3.06" fill="#BDBDBD"/>
<line x1="195.4" y1="276.6" x2="317.1" y2="276.6" stroke="#1a1a1a" stroke-width="1.07"/>
<line x1="200.31" y1="276.6" x2="200.31" y2="279.7" stroke="#333333" stroke-width="1.07"/>
<line x1="208.32" y1="276.6" x2="208.32" y2="279.7" stroke="#333333" stroke-width="1.07"/>
<line x1="216.33" y1="276.6" x2="216.33" y2="279.7" stroke="#333333" stroke-width="1.07"/>
<line x1="224.35" y1="276.6" x2="224.35" y2="279.7" stroke="#333333" stroke-width="1.07"/>
<line x1="232.36" y1="276.6" x2="232.36" y2="279.7" stroke="#333333" stroke-width="1.07"/>
<line x1="240.37" y1="276.6" x2="240.37" y2="279.7" stroke="#333333" stroke-width="1.07"/>
<line x1="248.39" y1="276.6" x2="248.39" y2="279.7" stroke="#333333" stroke-width="1.07"/>
<line x1="256.4" y1="276.6" x2="256.4" y2="279.7" stroke="#333333" stroke-width="1.07"/>
<line x1="264.41" y1="276.6" x2="264.41" y2="279.7" stroke="#333333" stroke-width="1.07"/>
<line x1="272.43" y1="276.6" x2="272.43" y2="279.7" stroke="#333333" stroke-width="1.07"/>
<line x1="280.44" y1="276.6" x2="280.44" y2="279.7" stroke="#333333" stroke-width="1.07"/>
<line x1="288.45" y1="276.6" x2="288.45" y2="279.7" stroke="#333333" stroke-width="1.07"/>
<line x1="296.47" y1="276.6" x2="296.47" y2="279.7" stroke="#333333" stroke-width="1.07"/>
<line x1="304.48" y1="276.6" x2="304.48" y2="279.7" stroke="#333333" stroke-width="1.07"/>
<line x1="312.49" y1="276.6" x2="312.49" y2="279.7" stroke="#333333" stroke-width="1.07"/>
<rect x="324.73" y="181.01" width="6.02" height="95.39" fill="#A6CEE3"/>
<rect x="324.73" y="180.39" width="6.02" height="0.61" fill="#3B8BAA"/>
<rect x="324.73" y="179.54" width="6.02" height="0.86" fill="#77C266"/>
<rect x="324.73" y="175.87" width="6.02" height="3.67" fill="#B79A78"/>
<rect x="324.73" y="175.14" width="6.02" height="0.73" fill="#E3262B"/>
<rect x="324.73" y="174.16" width="6.02" height="0.98" fill="#EF9350"/>
<rect x="324.73" y="167.92" width="6.02" height="6.24" fill="#9872BD"/>
<rect x="324.73" y="156.55" width="6.02" height="11.37" fill="#636363"/>
<rect x="324.73" y="154.1" width="6.02" height="2.45" fill="#BDBDBD"/>
<rect x="331.42" y="186.14" width="6.02" height="90.26" fill="#A6CEE3"/>
<rect x="331.42" y="183.94" width="6.02" height="2.2" fill="#3B8BAA"/>
<rect x="331.42" y="180.15" width="6.02" height="3.79" fill="#77C266"/>
<rect x="331.42" y="176.73" width="6.02" height="3.42" fill="#B79A78"/>
<rect x="331.42" y="174.89" width="6.02" height="1.83" fill="#EF9350"/>
<rect x="331.42" y="170.24" width="6.02" height="4.65" fill="#9872BD"/>
<rect x="331.42" y="169.27" width="6.02" height="0.98" fill="#DFD6A0"/>
<rect x="331.42" y="155.93" width="6.02" height="13.33" fill="#636363"/>
<rect x="331.42" y="154.1" width="6.02" height="1.83" fill="#BDBDBD"/>
<rect x="338.1" y="230.78" width="6.02" height="45.62" fill="#A6CEE3"/>
<rect x="338.1" y="225.16" width="6.02" height="5.63" fill="#3B8BAA"/>
<rect x="338.1" y="211.09" width="6.02" height="14.06" fill="#77C266"/>
<rect x="338.1" y="204.12" width="6.02" height="6.97" fill="#B79A78"/>
<rect x="338.1" y="202.65" width="6.02" height="1.47" fill="#E3262B"/>
<rect x="338.1" y="197.88" width="6.02" height="4.77" fill="#EF9350"/>
<rect x="338.1" y="189.44" width="6.02" height="8.44" fill="#9872BD"/>
<rect x="338.1" y="186.75" width="6.02" height="2.69" fill="#DFD6A0"/>
<rect x="338.1" y="155.32" width="6.02" height="31.43" fill="#636363"/>
<rect x="338.1" y="154.1" width="6.02" height="1.22" fill="#BDBDBD"/>
<rect x="344.78" y="216.72" width="6.02" height="59.68" fill="#A6CEE3"/>
<rect x="344.78" y="211.95" width="6.02" height="4.77" fill="#3B8BAA"/>
<rect x="344.78" y="195.56" width="6.02" height="16.39" fill="#77C266"/>
<rect x="344.78" y="190.42" width="6.02" height="5.14" fill="#B79A78"/>
<rect x="344.78" y="182.96" width="6.02" height="7.46" fill="#EF9350"/>
<rect x="344.78" y="181.01" width="6.02" height="1.96" fill="#9872BD"/>
<rect x="344.78" y="178.19" width="6.02" height="2.81" fill="#DFD6A0"/>
<rect x="344.78" y="156.67" width="6.02" height="21.52" fill="#636363"/>
<rect x="344.78" y="154.1" width="6.02" height="2.57" fill="#BDBDBD"/>
<rect x="351.47" y="219.16" width="6.02" height="57.24" fill="#A6CEE3"/>
<rect x="351.47" y="215.74" width="6.02" height="3.42" fill="#3B8BAA"/>
<rect x="351.47" y="210.11" width="6.02" height="5.63" fill="#77C266"/>
<rect x="351.47" y="203.02" width="6.02" height="7.09" fill="#B79A78"/>
<rect x="351.47" y="198.86" width="6.02" height="4.16" fill="#FDB96B"/>
<rect x="351.47" y="188.59" width="6.02" height="10.27" fill="#9872BD"/>
<rect x="351.47" y="187.61" width="6.02" height="0.98" fill="#DFD6A0"/>
<rect x="351.47" y="158.01" width="6.02" height="29.6" fill="#636363"/>
<rect x="351.47" y="154.1" width="6.02" height="3.91" fill="#BDBDBD"/>
<rect x="358.15" y="190.42" width="6.02" height="85.98" fill="#A6CEE3"/>
<rect x="358.15" y="187.98" width="6.02" height="2.45" fill="#3B8BAA"/>
<rect x="358.15" y="180.15" width="6.02" height="7.83" fill="#77C266"/>
<rect x="358.15" y="177.34" width="6.02" height="2.81" fill="#B79A78"/>
<rect x="358.15" y="175.5" width="6.02" height="1.83" fill="#FDB96B"/>
<rect x="358.15" y="173.55" width="6.02" height="1.96" fill="#EF9350"/>
<rect x="358.15" y="170.73" width="6.02" height="2.81" fill="#9872BD"/>
<rect x="358.15" y="169.75" width="6.02" height="0.98" fill="#DFD6A0"/>
<rect x="358.15" y="156.55" width="6.02" height="13.21" fill="#636363"/>
<rect x="358.15" y="154.1" width="6.02" height="2.45" fill="#BDBDBD"/>
<rect x="364.83" y="214.76" width="6.02" height="61.64" fill="#A6CEE3"/>
<rect x="364.83" y="210.11" width="6.02" height="4.65" fill="#3B8BAA"/>
<rect x="364.83" y="198.86" width="6.02" height="11.25" fill="#77C266"/>
<rect x="364.83" y="193.6" width="6.02" height="5.26" fill="#B79A78"/>
<rect x="364.83" y="189.44" width="6.02" height="4.16" fill="#E3262B"/>
<rect x="364.83" y="188.59" width="6.02" height="0.86" fill="#FDB96B"/>
<rect x="364.83" y="185.78" width="6.02" height="2.81" fill="#EF9350"/>
<rect x="364.83" y="179.78" width="6.02" height="5.99" fill="#9872BD"/>
<rect x="364.83" y="177.34" width="6.02" height="2.45" fill="#DFD6A0"/>
<rect x="364.83" y="155.93" width="6.02" height="21.4" fill="#636363"/>
<rect x="364.83" y="154.1" width="6.02" height="1.83" fill="#BDBDBD"/>
<rect x="371.52" y="210.48" width="6.02" height="65.92" fill="#A6CEE3"/>
<rect x="371.52" y="207.3" width="6.02" height="3.18" fill="#3B8BAA"/>
<rect x="371.52" y="200.82" width="6.02" height="6.48" fill="#77C266"/>
<rect x="371.52" y="196.29" width="6.02" height="4.53" fill="#B79A78"/>
<rect x="371.52" y="195.07" width="6.02" height="1.22" fill="#E3262B"/>
<rect x="371.52" y="193.24" width="6.02" height="1.83" fill="#FDB96B"/>
<rect x="371.52" y="191.03" width="6.02" height="2.2" fill="#EF9350"/>
<rect x="371.52" y="186.75" width="6.02" height="4.28" fill="#9872BD"/>
<rect x="371.52" y="184.8" width="6.02" height="1.96" fill="#DFD6A0"/>
<rect x="371.52" y="156.55" width="6.02" height="28.25" fill="#636363"/>
<rect x="371.52" y="154.1" width="6.02" height="2.45" fill="#BDBDBD"/>
<rect x="378.2" y="206.81" width="6.02" height="69.59" fill="#A6CEE3"/>
<rect x="378.2" y="203.02" width="6.02" height="3.79" fill="#3B8BAA"/>
<rect x="378.2" y="194.21" width="6.02" height="8.81" fill="#77C266"/>
<rect x="378.2" y="188.59" width="6.02" height="5.63" fill="#B79A78"/>
<rect x="378.2" y="186.75" width="6.02" height="1.83" fill="#FDB96B"/>
<rect x="378.2" y="183.82" width="6.02" height="2.94" fill="#EF9350"/>
<rect x="378.2" y="179.17" width="6.02" height="4.65" fill="#9872BD"/>
<rect x="378.2" y="178.19" width="6.02" height="0.98" fill="#DFD6A0"/>
<rect x="378.2" y="156.55" width="6.02" height="21.65" fill="#636363"/>
<rect x="378.2" y="154.1" width="6.02" height="2.45" fill="#BDBDBD"/>
<rect x="384.88" y="224.79" width="6.02" height="51.61" fill="#A6CEE3"/>
<rect x="384.88" y="222.83" width="6.02" height="1.96" fill="#77C266"/>
<rect x="384.88" y="215.74" width="6.02" height="7.09" fill="#B79A78"/>
<rect x="384.88" y="191.4" width="6.02" height="24.34" fill="#9872BD"/>
<rect x="384.88" y="158.01" width="6.02" height="33.39" fill="#636363"/>
<rect x="384.88" y="154.1" width="6.02" height="3.91" fill="#BDBDBD"/>
<rect x="391.57" y="172.93" width="6.02" height="103.47" fill="#A6CEE3"/>
<rect x="391.57" y="172.44" width="6.02" height="0.49" fill="#3B8BAA"/>
<rect x="391.57" y="171.22" width="6.02" height="1.22" fill="#77C266"/>
<rect x="391.57" y="169.27" width="6.02" height="1.96" fill="#B79A78"/>
<rect x="391.57" y="167.8" width="6.02" height="1.47" fill="#EF9350"/>
<rect x="391.57" y="162.66" width="6.02" height="5.14" fill="#9872BD"/>
<rect x="391.57" y="161.93" width="6.02" height="0.73" fill="#B0592A"/>
<rect x="391.57" y="155.93" width="6.02" height="5.99" fill="#636363"/>
<rect x="391.57" y="154.1" width="6.02" height="1.83" fill="#BDBDBD"/>
<rect x="398.25" y="193.24" width="6.02" height="83.16" fill="#A6CEE3"/>
<rect x="398.25" y="191.77" width="6.02" height="1.47" fill="#77C266"/>
<rect x="398.25" y="188.34" width="6.02" height="3.42" fill="#B79A78"/>
<rect x="398.25" y="187.24" width="6.02" height="1.1" fill="#EF9350"/>
<rect x="398.25" y="180.27" width="6.02" height="6.97" fill="#9872BD"/>
<rect x="398.25" y="158.01" width="6.02" height="22.26" fill="#636363"/>
<rect x="398.25" y="154.1" width="6.02" height="3.91" fill="#BDBDBD"/>
<rect x="404.93" y="191.03" width="6.02" height="85.37" fill="#A6CEE3"/>
<rect x="404.93" y="189.2" width="6.02" height="1.83" fill="#77C266"/>
<rect x="404.93" y="185.41" width="6.02" height="3.79" fill="#B79A78"/>
<rect x="404.93" y="181.62" width="6.02" height="3.79" fill="#FDB96B"/>
<rect x="404.93" y="173.06" width="6.02" height="8.56" fill="#9872BD"/>
<rect x="404.93" y="172.32" width="6.02" height="0.73" fill="#B0592A"/>
<rect x="404.93" y="155.93" width="6.02" height="16.39" fill="#636363"/>
<rect x="404.93" y="154.1" width="6.02" height="1.83" fill="#BDBDBD"/>
<rect x="411.62" y="256.95" width="6.02" height="19.45" fill="#A6CEE3"/>
<rect x="411.62" y="253.29" width="6.02" height="3.67" fill="#3B8BAA"/>
<rect x="411.62" y="241.91" width="6.02" height="11.37" fill="#77C266"/>
<rect x="411.62" y="238.12" width="6.02" height="3.79" fill="#B79A78"/>
<rect x="411.62" y="235.92" width="6.02" height="2.2" fill="#E3262B"/>
<rect x="411.62" y="233.96" width="6.02" height="1.96" fill="#FDB96B"/>
<rect x="411.62" y="229.8" width="6.02" height="4.16" fill="#EF9350"/>
<rect x="411.62" y="227.48" width="6.02" height="2.32" fill="#9872BD"/>
<rect x="411.62" y="224.79" width="6.02" height="2.69" fill="#DFD6A0"/>
<rect x="411.62" y="157.16" width="6.02" height="67.63" fill="#636363"/>
<rect x="411.62" y="154.1" width="6.02" height="3.06" fill="#BDBDBD"/>
<rect x="418.3" y="244.48" width="6.02" height="31.92" fill="#A6CEE3"/>
<rect x="418.3" y="235.92" width="6.02" height="8.56" fill="#3B8BAA"/>
<rect x="418.3" y="203.63" width="6.02" height="32.29" fill="#77C266"/>
<rect x="418.3" y="198.98" width="6.02" height="4.65" fill="#B79A78"/>
<rect x="418.3" y="196.66" width="6.02" height="2.32" fill="#E3262B"/>
<rect x="418.3" y="195.19" width="6.02" height="1.47" fill="#FDB96B"/>
<rect x="418.3" y="184.8" width="6.02" height="10.4" fill="#EF9350"/>
<rect x="418.3" y="182.96" width="6.02" height="1.83" fill="#9872BD"/>
<rect x="418.3" y="180.15" width="6.02" height="2.81" fill="#DFD6A0"/>
<rect x="418.3" y="179.17" width="6.02" height="0.98" fill="#B0592A"/>
<rect x="418.3" y="155.32" width="6.02" height="23.85" fill="#636363"/>
<rect x="418.3" y="154.1" width="6.02" height="1.22" fill="#BDBDBD"/>
<rect x="424.98" y="237.75" width="6.02" height="38.65" fill="#A6CEE3"/>
<rect x="424.98" y="229.8" width="6.02" height="7.95" fill="#3B8BAA"/>
<rect x="424.98" y="203.63" width="6.02" height="26.17" fill="#77C266"/>
<rect x="424.98" y="198.49" width="6.02" height="5.14" fill="#B79A78"/>
<rect x="424.98" y="197.03" width="6.02" height="1.47" fill="#E3262B"/>
<rect x="424.98" y="195.19" width="6.02" height="1.83" fill="#FDB96B"/>
<rect x="424.98" y="189.93" width="6.02" height="5.26" fill="#EF9350"/>
<rect x="424.98" y="187.73" width="6.02" height="2.2" fill="#9872BD"/>
<rect x="424.98" y="182.96" width="6.02" height="4.77" fill="#DFD6A0"/>
<rect x="424.98" y="156.55" width="6.02" height="26.42" fill="#636363"/>
<rect x="424.98" y="154.1" width="6.02" height="2.45" fill="#BDBDBD"/>
<rect x="431.67" y="238.61" width="6.02" height="37.79" fill="#A6CEE3"/>
<rect x="431.67" y="229.8" width="6.02" height="8.81" fill="#3B8BAA"/>
<rect x="431.67" y="212.44" width="6.02" height="17.37" fill="#77C266"/>
<rect x="431.67" y="206.44" width="6.02" height="5.99" fill="#B79A78"/>
<rect x="431.67" y="203.63" width="6.02" height="2.81" fill="#FDB96B"/>
<rect x="431.67" y="199.84" width="6.02" height="3.79" fill="#EF9350"/>
<rect x="431.67" y="197.39" width="6.02" height="2.45" fill="#9872BD"/>
<rect x="431.67" y="193.73" width="6.02" height="3.67" fill="#DFD6A0"/>
<rect x="431.67" y="155.93" width="6.02" height="37.79" fill="#636363"/>
<rect x="431.67" y="154.1" width="6.02" height="1.83" fill="#BDBDBD"/>
<rect x="438.35" y="269.92" width="6.02" height="6.48" fill="#A6CEE3"/>
<rect x="438.35" y="191.77" width="6.02" height="78.15" fill="#FDB96B"/>
<rect x="438.35" y="190.55" width="6.02" height="1.22" fill="#B0592A"/>
<rect x="438.35" y="155.32" width="6.02" height="35.22" fill="#636363"/>
<rect x="438.35" y="154.1" width="6.02" height="1.22" fill="#BDBDBD"/>
<line x1="323.5" y1="276.6" x2="445.3" y2="276.6" stroke="#1a1a1a" stroke-width="1.07"/>
<line x1="327.74" y1="276.6" x2="327.74" y2="279.7" stroke="#333333" stroke-width="1.07"/>
<line x1="334.42" y1="276.6" x2="334.42" y2="279.7" stroke="#333333" stroke-width="1.07"/>
<line x1="341.11" y1="276.6" x2="341.11" y2="279.7" stroke="#333333" stroke-width="1.07"/>
<line x1="347.79" y1="276.6" x2="347.79" y2="279.7" stroke="#333333" stroke-width="1.07"/>
<line x1="354.47" y1="276.6" x2="354.47" y2="279.7" stroke="#333333" stroke-width="1.07"/>
<line x1="361.16" y1="276.6" x2="361.16" y2="279.7" stroke="#333333" stroke-width="1.07"/>
<line x1="367.84" y1="276.6" x2="367.84" y2="279.7" stroke="#333333" stroke-width="1.07"/>
<line x1="374.52" y1="276.6" x2="374.52" y2="279.7" stroke="#333333" stroke-width="1.07"/>
<line x1="381.21" y1="276.6" x2="381.21" y2="279.7" stroke="#333333" stroke-width="1.07"/>
<line x1="387.89" y1="276.6" x2="387.89" y2="279.7" stroke="#333333" stroke-width="1.07"/>
<line x1="394.57" y1="276.6" x2="394.57" y2="279.7" stroke="#333333" stroke-width="1.07"/>
<line x1="401.26" y1="276.6" x2="401.26" y2="279.7" stroke="#333333" stroke-width="1.07"/>
<line x1="407.94" y1="276.6" x2="407.94" y2="279.7" stroke="#333333" stroke-width="1.07"/>
<line x1="414.62" y1="276.6" x2="414.62" y2="279.7" stroke="#333333" stroke-width="1.07"/>
<line x1="421.31" y1="276.6" x2="421.31" y2="279.7" stroke="#333333" stroke-width="1.07"/>
<line x1="427.99" y1="276.6" x2="427.99" y2="279.7" stroke="#333333" stroke-width="1.07"/>
<line x1="434.67" y1="276.6" x2="434.67" y2="279.7" stroke="#333333" stroke-width="1.07"/>
<line x1="441.36" y1="276.6" x2="441.36" y2="279.7" stroke="#333333" stroke-width="1.07"/>
<line x1="67.5" y1="154.1" x2="67.5" y2="277.1" stroke="#1a1a1a" stroke-width="1.07"/>
<line x1="64.1" y1="276.4" x2="67.5" y2="276.4" stroke="#333333" stroke-width="1.07"/>
<text x="60.6" y="280.2" font-size="10.5" fill="#4d4d4d" text-anchor="end">0.00</text>
<line x1="64.1" y1="245.82" x2="67.5" y2="245.82" stroke="#333333" stroke-width="1.07"/>
<text x="60.6" y="249.62" font-size="10.5" fill="#4d4d4d" text-anchor="end">0.25</text>
<line x1="64.1" y1="215.25" x2="67.5" y2="215.25" stroke="#333333" stroke-width="1.07"/>
<text x="60.6" y="219.05" font-size="10.5" fill="#4d4d4d" text-anchor="end">0.50</text>
<line x1="64.1" y1="184.67" x2="67.5" y2="184.67" stroke="#333333" stroke-width="1.07"/>
<text x="60.6" y="188.47" font-size="10.5" fill="#4d4d4d" text-anchor="end">0.75</text>
<line x1="64.1" y1="154.1" x2="67.5" y2="154.1" stroke="#333333" stroke-width="1.07"/>
<text x="60.6" y="157.9" font-size="10.5" fill="#4d4d4d" text-anchor="end">1.00</text>
<rect x="69" y="358.85" width="10.71" height="54.05" fill="#A6CEE3"/>
<rect x="69" y="299.56" width="10.71" height="59.29" fill="#B79A78"/>
<rect x="69" y="296.88" width="10.71" height="2.68" fill="#E3262B"/>
<rect x="69" y="295.66" width="10.71" height="1.22" fill="#EF9350"/>
<rect x="69" y="293.95" width="10.71" height="1.71" fill="#636363"/>
<rect x="69" y="290.9" width="10.71" height="3.05" fill="#BDBDBD"/>
<rect x="80.9" y="360.44" width="10.71" height="52.46" fill="#A6CEE3"/>
<rect x="80.9" y="356.17" width="10.71" height="4.27" fill="#E3262B"/>
<rect x="80.9" y="354.58" width="10.71" height="1.59" fill="#EF9350"/>
<rect x="80.9" y="353.12" width="10.71" height="1.46" fill="#9872BD"/>
<rect x="80.9" y="351.29" width="10.71" height="1.83" fill="#DFD6A0"/>
<rect x="80.9" y="322.01" width="10.71" height="29.28" fill="#636363"/>
<rect x="80.9" y="290.9" width="10.71" height="31.11" fill="#BDBDBD"/>
<rect x="92.8" y="327.87" width="10.71" height="85.03" fill="#A6CEE3"/>
<rect x="92.8" y="315.54" width="10.71" height="12.32" fill="#B79A78"/>
<rect x="92.8" y="309.2" width="10.71" height="6.34" fill="#E3262B"/>
<rect x="92.8" y="308.47" width="10.71" height="0.73" fill="#EF9350"/>
<rect x="92.8" y="307.61" width="10.71" height="0.85" fill="#DFD6A0"/>
<rect x="92.8" y="300.05" width="10.71" height="7.56" fill="#636363"/>
<rect x="92.8" y="290.9" width="10.71" height="9.15" fill="#BDBDBD"/>
<rect x="104.7" y="327.87" width="10.71" height="85.03" fill="#A6CEE3"/>
<rect x="104.7" y="322.01" width="10.71" height="5.86" fill="#E3262B"/>
<rect x="104.7" y="311.88" width="10.71" height="10.13" fill="#EF9350"/>
<rect x="104.7" y="306.03" width="10.71" height="5.86" fill="#636363"/>
<rect x="104.7" y="290.9" width="10.71" height="15.13" fill="#BDBDBD"/>
<rect x="116.59" y="319.33" width="10.71" height="93.57" fill="#A6CEE3"/>
<rect x="116.59" y="312.62" width="10.71" height="6.71" fill="#E3262B"/>
<rect x="116.59" y="311.88" width="10.71" height="0.73" fill="#9872BD"/>
<rect x="116.59" y="310.05" width="10.71" height="1.83" fill="#DFD6A0"/>
<rect x="116.59" y="306.03" width="10.71" height="4.03" fill="#636363"/>
<rect x="116.59" y="290.9" width="10.71" height="15.13" fill="#BDBDBD"/>
<rect x="128.5" y="308.59" width="10.71" height="104.31" fill="#A6CEE3"/>
<rect x="128.5" y="307.25" width="10.71" height="1.34" fill="#B79A78"/>
<rect x="128.5" y="301.76" width="10.71" height="5.49" fill="#E3262B"/>
<rect x="128.5" y="300.78" width="10.71" height="0.98" fill="#EF9350"/>
<rect x="128.5" y="297" width="10.71" height="3.78" fill="#DFD6A0"/>
<rect x="128.5" y="295.29" width="10.71" height="1.71" fill="#636363"/>
<rect x="128.5" y="290.9" width="10.71" height="4.39" fill="#BDBDBD"/>
<rect x="140.4" y="311.4" width="10.71" height="101.5" fill="#A6CEE3"/>
<rect x="140.4" y="304.93" width="10.71" height="6.47" fill="#E3262B"/>
<rect x="140.4" y="299.68" width="10.71" height="5.25" fill="#DFD6A0"/>
<rect x="140.4" y="297" width="10.71" height="2.68" fill="#636363"/>
<rect x="140.4" y="290.9" width="10.71" height="6.1" fill="#BDBDBD"/>
<rect x="152.29" y="319.57" width="10.71" height="93.33" fill="#A6CEE3"/>
<rect x="152.29" y="313.35" width="10.71" height="6.22" fill="#B79A78"/>
<rect x="152.29" y="305.91" width="10.71" height="7.44" fill="#E3262B"/>
<rect x="152.29" y="302.73" width="10.71" height="3.17" fill="#EF9350"/>
<rect x="152.29" y="300.78" width="10.71" height="1.95" fill="#DFD6A0"/>
<rect x="152.29" y="297" width="10.71" height="3.78" fill="#636363"/>
<rect x="152.29" y="290.9" width="10.71" height="6.1" fill="#BDBDBD"/>
<rect x="164.2" y="315.54" width="10.71" height="97.36" fill="#A6CEE3"/>
<rect x="164.2" y="311.03" width="10.71" height="4.51" fill="#B79A78"/>
<rect x="164.2" y="302.25" width="10.71" height="8.78" fill="#E3262B"/>
<rect x="164.2" y="301.39" width="10.71" height="0.85" fill="#EF9350"/>
<rect x="164.2" y="300.42" width="10.71" height="0.98" fill="#DFD6A0"/>
<rect x="164.2" y="298.1" width="10.71" height="2.32" fill="#636363"/>
<rect x="164.2" y="290.9" width="10.71" height="7.2" fill="#BDBDBD"/>
<rect x="176.09" y="313.35" width="10.71" height="99.55" fill="#A6CEE3"/>
<rect x="176.09" y="308.96" width="10.71" height="4.39" fill="#B79A78"/>
<rect x="176.09" y="302.73" width="10.71" height="6.22" fill="#E3262B"/>
<rect x="176.09" y="300.78" width="10.71" height="1.95" fill="#EF9350"/>
<rect x="176.09" y="298.95" width="10.71" height="1.83" fill="#DFD6A0"/>
<rect x="176.09" y="296.27" width="10.71" height="2.68" fill="#636363"/>
<rect x="176.09" y="290.9" width="10.71" height="5.37" fill="#BDBDBD"/>
<line x1="67.5" y1="413.1" x2="188" y2="413.1" stroke="#1a1a1a" stroke-width="1.07"/>
<line x1="74.35" y1="413.1" x2="74.35" y2="416.2" stroke="#333333" stroke-width="1.07"/>
<line x1="86.25" y1="413.1" x2="86.25" y2="416.2" stroke="#333333" stroke-width="1.07"/>
<line x1="98.15" y1="413.1" x2="98.15" y2="416.2" stroke="#333333" stroke-width="1.07"/>
<line x1="110.05" y1="413.1" x2="110.05" y2="416.2" stroke="#333333" stroke-width="1.07"/>
<line x1="121.95" y1="413.1" x2="121.95" y2="416.2" stroke="#333333" stroke-width="1.07"/>
<line x1="133.85" y1="413.1" x2="133.85" y2="416.2" stroke="#333333" stroke-width="1.07"/>
<line x1="145.75" y1="413.1" x2="145.75" y2="416.2" stroke="#333333" stroke-width="1.07"/>
<line x1="157.65" y1="413.1" x2="157.65" y2="416.2" stroke="#333333" stroke-width="1.07"/>
<line x1="169.55" y1="413.1" x2="169.55" y2="416.2" stroke="#333333" stroke-width="1.07"/>
<line x1="181.45" y1="413.1" x2="181.45" y2="416.2" stroke="#333333" stroke-width="1.07"/>
<rect x="196.7" y="411.68" width="7.21" height="1.22" fill="#A6CEE3"/>
<rect x="196.7" y="407.04" width="7.21" height="4.64" fill="#3B8BAA"/>
<rect x="196.7" y="405.82" width="7.21" height="1.22" fill="#77C266"/>
<rect x="196.7" y="404.6" width="7.21" height="1.22" fill="#E3262B"/>
<rect x="196.7" y="403.38" width="7.21" height="1.22" fill="#FDB96B"/>
<rect x="196.7" y="401.55" width="7.21" height="1.83" fill="#9872BD"/>
<rect x="196.7" y="397.41" width="7.21" height="4.15" fill="#636363"/>
<rect x="196.7" y="290.9" width="7.21" height="106.51" fill="#BDBDBD"/>
<rect x="204.71" y="403.14" width="7.21" height="9.76" fill="#A6CEE3"/>
<rect x="204.71" y="378.98" width="7.21" height="24.16" fill="#3B8BAA"/>
<rect x="204.71" y="362.88" width="7.21" height="16.1" fill="#77C266"/>
<rect x="204.71" y="356.9" width="7.21" height="5.98" fill="#E3262B"/>
<rect x="204.71" y="349.58" width="7.21" height="7.32" fill="#FDB96B"/>
<rect x="204.71" y="348.36" width="7.21" height="1.22" fill="#EF9350"/>
<rect x="204.71" y="346.65" width="7.21" height="1.71" fill="#9872BD"/>
<rect x="204.71" y="343.73" width="7.21" height="2.93" fill="#DFD6A0"/>
<rect x="204.71" y="341.16" width="7.21" height="2.56" fill="#B0592A"/>
<rect x="204.71" y="320.06" width="7.21" height="21.11" fill="#636363"/>
<rect x="204.71" y="290.9" width="7.21" height="29.16" fill="#BDBDBD"/>
<rect x="212.73" y="407.17" width="7.21" height="5.73" fill="#A6CEE3"/>
<rect x="212.73" y="386.06" width="7.21" height="21.11" fill="#3B8BAA"/>
<rect x="212.73" y="373.98" width="7.21" height="12.08" fill="#77C266"/>
<rect x="212.73" y="369.83" width="7.21" height="4.15" fill="#B79A78"/>
<rect x="212.73" y="365.69" width="7.21" height="4.15" fill="#E3262B"/>
<rect x="212.73" y="359.95" width="7.21" height="5.73" fill="#FDB96B"/>
<rect x="212.73" y="357.76" width="7.21" height="2.2" fill="#EF9350"/>
<rect x="212.73" y="354.34" width="7.21" height="3.42" fill="#9872BD"/>
<rect x="212.73" y="351.78" width="7.21" height="2.56" fill="#B0592A"/>
<rect x="212.73" y="325.79" width="7.21" height="25.99" fill="#636363"/>
<rect x="212.73" y="290.9" width="7.21" height="34.89" fill="#BDBDBD"/>
<rect x="220.74" y="405.21" width="7.21" height="7.69" fill="#A6CEE3"/>
<rect x="220.74" y="389.35" width="7.21" height="15.86" fill="#3B8BAA"/>
<rect x="220.74" y="367.52" width="7.21" height="21.84" fill="#77C266"/>
<rect x="220.74" y="365.69" width="7.21" height="1.83" fill="#B79A78"/>
<rect x="220.74" y="361.05" width="7.21" height="4.64" fill="#E3262B"/>
<rect x="220.74" y="356.66" width="7.21" height="4.39" fill="#FDB96B"/>
<rect x="220.74" y="354.71" width="7.21" height="1.95" fill="#EF9350"/>
<rect x="220.74" y="349.34" width="7.21" height="5.37" fill="#9872BD"/>
<rect x="220.74" y="347.02" width="7.21" height="2.32" fill="#B0592A"/>
<rect x="220.74" y="321.4" width="7.21" height="25.62" fill="#636363"/>
<rect x="220.74" y="290.9" width="7.21" height="30.5" fill="#BDBDBD"/>
<rect x="228.75" y="402.16" width="7.21" height="10.74" fill="#A6CEE3"/>
<rect x="228.75" y="377.15" width="7.21" height="25.01" fill="#3B8BAA"/>
<rect x="228.75" y="371.91" width="7.21" height="5.25" fill="#77C266"/>
<rect x="228.75" y="366.91" width="7.21" height="5" fill="#E3262B"/>
<rect x="228.75" y="360.44" width="7.21" height="6.47" fill="#FDB96B"/>
<rect x="228.75" y="359.59" width="7.21" height="0.85" fill="#EF9350"/>
<rect x="228.75" y="357.76" width="7.21" height="1.83" fill="#9872BD"/>
<rect x="228.75" y="352.75" width="7.21" height="5" fill="#B0592A"/>
<rect x="228.75" y="337.14" width="7.21" height="15.62" fill="#636363"/>
<rect x="228.75" y="290.9" width="7.21" height="46.24" fill="#BDBDBD"/>
<rect x="236.77" y="400.21" width="7.21" height="12.69" fill="#A6CEE3"/>
<rect x="236.77" y="370.93" width="7.21" height="29.28" fill="#3B8BAA"/>
<rect x="236.77" y="361.66" width="7.21" height="9.27" fill="#77C266"/>
<rect x="236.77" y="352.75" width="7.21" height="8.91" fill="#E3262B"/>
<rect x="236.77" y="343.48" width="7.21" height="9.27" fill="#FDB96B"/>
<rect x="236.77" y="341.53" width="7.21" height="1.95" fill="#9872BD"/>
<rect x="236.77" y="339.94" width="7.21" height="1.59" fill="#DFD6A0"/>
<rect x="236.77" y="336.77" width="7.21" height="3.17" fill="#B0592A"/>
<rect x="236.77" y="314.08" width="7.21" height="22.69" fill="#636363"/>
<rect x="236.77" y="290.9" width="7.21" height="23.18" fill="#BDBDBD"/>
<rect x="244.78" y="402.16" width="7.21" height="10.74" fill="#A6CEE3"/>
<rect x="244.78" y="373.86" width="7.21" height="28.3" fill="#3B8BAA"/>
<rect x="244.78" y="367.15" width="7.21" height="6.71" fill="#77C266"/>
<rect x="244.78" y="357.63" width="7.21" height="9.52" fill="#E3262B"/>
<rect x="244.78" y="350.07" width="7.21" height="7.56" fill="#FDB96B"/>
<rect x="244.78" y="348.85" width="7.21" height="1.22" fill="#EF9350"/>
<rect x="244.78" y="346.04" width="7.21" height="2.81" fill="#9872BD"/>
<rect x="244.78" y="344.82" width="7.21" height="1.22" fill="#DFD6A0"/>
<rect x="244.78" y="342.38" width="7.21" height="2.44" fill="#B0592A"/>
<rect x="244.78" y="320.06" width="7.21" height="22.33" fill="#636363"/>
<rect x="244.78" y="290.9" width="7.21" height="29.16" fill="#BDBDBD"/>
<rect x="252.79" y="401.68" width="7.21" height="11.22" fill="#A6CEE3"/>
<rect x="252.79" y="360.81" width="7.21" height="40.87" fill="#3B8BAA"/>
<rect x="252.79" y="358.37" width="7.21" height="2.44" fill="#77C266"/>
<rect x="252.79" y="349.95" width="7.21" height="8.42" fill="#E3262B"/>
<rect x="252.79" y="336.77" width="7.21" height="13.18" fill="#FDB96B"/>
<rect x="252.79" y="334.94" width="7.21" height="1.83" fill="#EF9350"/>
<rect x="252.79" y="332.75" width="7.21" height="2.2" fill="#9872BD"/>
<rect x="252.79" y="327.99" width="7.21" height="4.76" fill="#B0592A"/>
<rect x="252.79" y="310.42" width="7.21" height="17.57" fill="#636363"/>
<rect x="252.79" y="290.9" width="7.21" height="19.52" fill="#BDBDBD"/>
<rect x="260.81" y="399.85" width="7.21" height="13.05" fill="#A6CEE3"/>
<rect x="260.81" y="363.25" width="7.21" height="36.6" fill="#3B8BAA"/>
<rect x="260.81" y="357.88" width="7.21" height="5.37" fill="#77C266"/>
<rect x="260.81" y="349.95" width="7.21" height="7.93" fill="#E3262B"/>
<rect x="260.81" y="337.63" width="7.21" height="12.32" fill="#FDB96B"/>
<rect x="260.81" y="336.04" width="7.21" height="1.59" fill="#9872BD"/>
<rect x="260.81" y="332.75" width="7.21" height="3.29" fill="#B0592A"/>
<rect x="260.81" y="315.18" width="7.21" height="17.57" fill="#636363"/>
<rect x="260.81" y="290.9" width="7.21" height="24.28" fill="#BDBDBD"/>
<rect x="268.82" y="402.9" width="7.21" height="10" fill="#A6CEE3"/>
<rect x="268.82" y="367.76" width="7.21" height="35.14" fill="#3B8BAA"/>
<rect x="268.82" y="362.88" width="7.21" height="4.88" fill="#77C266"/>
<rect x="268.82" y="355.19" width="7.21" height="7.69" fill="#E3262B"/>
<rect x="268.82" y="341.9" width="7.21" height="13.3" fill="#FDB96B"/>
<rect x="268.82" y="338.36" width="7.21" height="3.54" fill="#9872BD"/>
<rect x="268.82" y="336.04" width="7.21" height="2.32" fill="#B0592A"/>
<rect x="268.82" y="314.69" width="7.21" height="21.35" fill="#636363"/>
<rect x="268.82" y="290.9" width="7.21" height="23.79" fill="#BDBDBD"/>
<rect x="276.83" y="399.85" width="7.21" height="13.05" fill="#A6CEE3"/>
<rect x="276.83" y="366.91" width="7.21" height="32.94" fill="#3B8BAA"/>
<rect x="276.83" y="363.25" width="7.21" height="3.66" fill="#77C266"/>
<rect x="276.83" y="356.05" width="7.21" height="7.2" fill="#E3262B"/>
<rect x="276.83" y="347.75" width="7.21" height="8.3" fill="#FDB96B"/>
<rect x="276.83" y="344.82" width="7.21" height="2.93" fill="#EF9350"/>
<rect x="276.83" y="337.14" width="7.21" height="7.69" fill="#9872BD"/>
<rect x="276.83" y="333.84" width="7.21" height="3.29" fill="#B0592A"/>
<rect x="276.83" y="312.01" width="7.21" height="21.84" fill="#636363"/>
<rect x="276.83" y="290.9" width="7.21" height="21.11" fill="#BDBDBD"/>
<rect x="284.85" y="401.68" width="7.21" height="11.22" fill="#A6CEE3"/>
<rect x="284.85" y="370.44" width="7.21" height="31.23" fill="#3B8BAA"/>
<rect x="284.85" y="366.54" width="7.21" height="3.9" fill="#77C266"/>
<rect x="284.85" y="358.85" width="7.21" height="7.69" fill="#E3262B"/>
<rect x="284.85" y="347.75" width="7.21" height="11.1" fill="#FDB96B"/>
<rect x="284.85" y="345.56" width="7.21" height="2.2" fill="#9872BD"/>
<rect x="284.85" y="342.87" width="7.21" height="2.68" fill="#B0592A"/>
<rect x="284.85" y="322.13" width="7.21" height="20.74" fill="#636363"/>
<rect x="284.85" y="290.9" width="7.21" height="31.23" fill="#BDBDBD"/>
<rect x="292.86" y="409" width="7.21" height="3.9" fill="#A6CEE3"/>
<rect x="292.86" y="401.07" width="7.21" height="7.93" fill="#3B8BAA"/>
<rect x="292.86" y="398.14" width="7.21" height="2.93" fill="#77C266"/>
<rect x="292.86" y="324.33" width="7.21" height="73.81" fill="#B79A78"/>
<rect x="292.86" y="322.13" width="7.21" height="2.2" fill="#E3262B"/>
<rect x="292.86" y="318.72" width="7.21" height="3.42" fill="#FDB96B"/>
<rect x="292.86" y="317.74" width="7.21" height="0.98" fill="#EF9350"/>
<rect x="292.86" y="316.52" width="7.21" height="1.22" fill="#9872BD"/>
<rect x="292.86" y="315.18" width="7.21" height="1.34" fill="#B0592A"/>
<rect x="292.86" y="305.05" width="7.21" height="10.13" fill="#636363"/>
<rect x="292.86" y="290.9" width="7.21" height="14.15" fill="#BDBDBD"/>
<rect x="300.87" y="411.92" width="7.21" height="0.98" fill="#3B8BAA"/>
<rect x="300.87" y="410.46" width="7.21" height="1.46" fill="#77C266"/>
<rect x="300.87" y="316.76" width="7.21" height="93.7" fill="#B79A78"/>
<rect x="300.87" y="314.69" width="7.21" height="2.07" fill="#EF9350"/>
<rect x="300.87" y="309.93" width="7.21" height="4.76" fill="#636363"/>
<rect x="300.87" y="290.9" width="7.21" height="19.03" fill="#BDBDBD"/>
<rect x="308.89" y="325.3" width="7.21" height="87.6" fill="#A6CEE3"/>
<rect x="308.89" y="323.96" width="7.21" height="1.34" fill="#77C266"/>
<rect x="308.89" y="322.38" width="7.21" height="1.59" fill="#E3262B"/>
<rect x="308.89" y="317.25" width="7.21" height="5.12" fill="#FDB96B"/>
<rect x="308.89" y="315.91" width="7.21" height="1.34" fill="#EF9350"/>
<rect x="308.89" y="314.69" width="7.21" height="1.22" fill="#B0592A"/>
<rect x="308.89" y="301.88" width="7.21" height="12.81" fill="#636363"/>
<rect x="308.89" y="290.9" width="7.21" height="10.98" fill="#BDBDBD"/>
<line x1="195.4" y1="413.1" x2="317.1" y2="413.1" stroke="#1a1a1a" stroke-width="1.07"/>
<line x1="200.31" y1="413.1" x2="200.31" y2="416.2" stroke="#333333" stroke-width="1.07"/>
<line x1="208.32" y1="413.1" x2="208.32" y2="416.2" stroke="#333333" stroke-width="1.07"/>
<line x1="216.33" y1="413.1" x2="216.33" y2="416.2" stroke="#333333" stroke-width="1.07"/>
<line x1="224.35" y1="413.1" x2="224.35" y2="416.2" stroke="#333333" stroke-width="1.07"/>
<line x1="232.36" y1="413.1" x2="232.36" y2="416.2" stroke="#333333" stroke-width="1.07"/>
<line x1="240.37" y1="413.1" x2="240.37" y2="416.2" stroke="#333333" stroke-width="1.07"/>
<line x1="248.39" y1="413.1" x2="248.39" y2="416.2" stroke="#333333" stroke-width="1.07"/>
<line x1="256.4" y1="413.1" x2="256.4" y2="416.2" stroke="#333333" stroke-width="1.07"/>
<line x1="264.41" y1="413.1" x2="264.41" y2="416.2" stroke="#333333" stroke-width="1.07"/>
<line x1="272.43" y1="413.1" x2="272.43" y2="416.2" stroke="#333333" stroke-width="1.07"/>
<line x1="280.44" y1="413.1" x2="280.44" y2="416.2" stroke="#333333" stroke-width="1.07"/>
<line x1="288.45" y1="413.1" x2="288.45" y2="416.2" stroke="#333333" stroke-width="1.07"/>
<line x1="296.47" y1="413.1" x2="296.47" y2="416.2" stroke="#333333" stroke-width="1.07"/>
<line x1="304.48" y1="413.1" x2="304.48" y2="416.2" stroke="#333333" stroke-width="1.07"/>
<line x1="312.49" y1="413.1" x2="312.49" y2="416.2" stroke="#333333" stroke-width="1.07"/>
<rect x="324.73" y="412.29" width="6.02" height="0.61" fill="#A6CEE3"/>
<rect x="324.73" y="411.44" width="6.02" height="0.85" fill="#3B8BAA"/>
<rect x="324.73" y="358" width="6.02" height="53.44" fill="#77C266"/>
<rect x="324.73" y="356.66" width="6.02" height="1.34" fill="#B79A78"/>
<rect x="324.73" y="353.73" width="6.02" height="2.93" fill="#DFD6A0"/>
<rect x="324.73" y="340.8" width="6.02" height="12.93" fill="#636363"/>
<rect x="324.73" y="290.9" width="6.02" height="49.9" fill="#BDBDBD"/>
<rect x="331.42" y="411.68" width="6.02" height="1.22" fill="#A6CEE3"/>
<rect x="331.42" y="406.92" width="6.02" height="4.76" fill="#3B8BAA"/>
<rect x="331.42" y="355.19" width="6.02" height="51.73" fill="#77C266"/>
<rect x="331.42" y="352.75" width="6.02" height="2.44" fill="#E3262B"/>
<rect x="331.42" y="350.68" width="6.02" height="2.07" fill="#DFD6A0"/>
<rect x="331.42" y="338.85" width="6.02" height="11.83" fill="#636363"/>
<rect x="331.42" y="290.9" width="6.02" height="47.95" fill="#BDBDBD"/>
<rect x="338.1" y="407.9" width="6.02" height="5" fill="#A6CEE3"/>
<rect x="338.1" y="394.11" width="6.02" height="13.79" fill="#3B8BAA"/>
<rect x="338.1" y="371.05" width="6.02" height="23.06" fill="#77C266"/>
<rect x="338.1" y="367.52" width="6.02" height="3.54" fill="#E3262B"/>
<rect x="338.1" y="361.17" width="6.02" height="6.34" fill="#FDB96B"/>
<rect x="338.1" y="359.83" width="6.02" height="1.34" fill="#9872BD"/>
<rect x="338.1" y="358.61" width="6.02" height="1.22" fill="#B0592A"/>
<rect x="338.1" y="332.38" width="6.02" height="26.23" fill="#636363"/>
<rect x="338.1" y="290.9" width="6.02" height="41.48" fill="#BDBDBD"/>
<rect x="344.78" y="407.9" width="6.02" height="5" fill="#A6CEE3"/>
<rect x="344.78" y="392.16" width="6.02" height="15.74" fill="#3B8BAA"/>
<rect x="344.78" y="368.98" width="6.02" height="23.18" fill="#77C266"/>
<rect x="344.78" y="365.44" width="6.02" height="3.54" fill="#E3262B"/>
<rect x="344.78" y="359.59" width="6.02" height="5.86" fill="#FDB96B"/>
<rect x="344.78" y="357.39" width="6.02" height="2.2" fill="#9872BD"/>
<rect x="344.78" y="356.05" width="6.02" height="1.34" fill="#B0592A"/>
<rect x="344.78" y="336.89" width="6.02" height="19.15" fill="#636363"/>
<rect x="344.78" y="290.9" width="6.02" height="45.99" fill="#BDBDBD"/>
<rect x="351.47" y="408.87" width="6.02" height="4.03" fill="#A6CEE3"/>
<rect x="351.47" y="404.48" width="6.02" height="4.39" fill="#3B8BAA"/>
<rect x="351.47" y="392.16" width="6.02" height="12.32" fill="#77C266"/>
<rect x="351.47" y="390.09" width="6.02" height="2.07" fill="#E3262B"/>
<rect x="351.47" y="388.5" width="6.02" height="1.59" fill="#FDB96B"/>
<rect x="351.47" y="386.67" width="6.02" height="1.83" fill="#EF9350"/>
<rect x="351.47" y="385.57" width="6.02" height="1.1" fill="#9872BD"/>
<rect x="351.47" y="380.94" width="6.02" height="4.64" fill="#DFD6A0"/>
<rect x="351.47" y="353.24" width="6.02" height="27.69" fill="#636363"/>
<rect x="351.47" y="290.9" width="6.02" height="62.34" fill="#BDBDBD"/>
<rect x="358.15" y="411.19" width="6.02" height="1.71" fill="#A6CEE3"/>
<rect x="358.15" y="403.38" width="6.02" height="7.81" fill="#3B8BAA"/>
<rect x="358.15" y="359.22" width="6.02" height="44.16" fill="#77C266"/>
<rect x="358.15" y="356.66" width="6.02" height="2.56" fill="#E3262B"/>
<rect x="358.15" y="354.95" width="6.02" height="1.71" fill="#FDB96B"/>
<rect x="358.15" y="353.24" width="6.02" height="1.71" fill="#EF9350"/>
<rect x="358.15" y="352.14" width="6.02" height="1.1" fill="#DFD6A0"/>
<rect x="358.15" y="340.8" width="6.02" height="11.35" fill="#636363"/>
<rect x="358.15" y="290.9" width="6.02" height="49.9" fill="#BDBDBD"/>
<rect x="364.83" y="409.24" width="6.02" height="3.66" fill="#A6CEE3"/>
<rect x="364.83" y="398.02" width="6.02" height="11.22" fill="#3B8BAA"/>
<rect x="364.83" y="372.4" width="6.02" height="25.62" fill="#77C266"/>
<rect x="364.83" y="367.52" width="6.02" height="4.88" fill="#B79A78"/>
<rect x="364.83" y="364.47" width="6.02" height="3.05" fill="#E3262B"/>
<rect x="364.83" y="362.88" width="6.02" height="1.59" fill="#FDB96B"/>
<rect x="364.83" y="362.03" width="6.02" height="0.85" fill="#EF9350"/>
<rect x="364.83" y="361.17" width="6.02" height="0.85" fill="#9872BD"/>
<rect x="364.83" y="359.22" width="6.02" height="1.95" fill="#DFD6A0"/>
<rect x="364.83" y="337.87" width="6.02" height="21.35" fill="#636363"/>
<rect x="364.83" y="290.9" width="6.02" height="46.97" fill="#BDBDBD"/>
<rect x="371.52" y="409.24" width="6.02" height="3.66" fill="#A6CEE3"/>
<rect x="371.52" y="403.38" width="6.02" height="5.86" fill="#3B8BAA"/>
<rect x="371.52" y="371.42" width="6.02" height="31.96" fill="#77C266"/>
<rect x="371.52" y="368.49" width="6.02" height="2.93" fill="#E3262B"/>
<rect x="371.52" y="365.93" width="6.02" height="2.56" fill="#FDB96B"/>
<rect x="371.52" y="362.51" width="6.02" height="3.42" fill="#9872BD"/>
<rect x="371.52" y="360.56" width="6.02" height="1.95" fill="#DFD6A0"/>
<rect x="371.52" y="335.92" width="6.02" height="24.64" fill="#636363"/>
<rect x="371.52" y="290.9" width="6.02" height="45.02" fill="#BDBDBD"/>
<rect x="378.2" y="409.24" width="6.02" height="3.66" fill="#A6CEE3"/>
<rect x="378.2" y="400.58" width="6.02" height="8.66" fill="#3B8BAA"/>
<rect x="378.2" y="368.49" width="6.02" height="32.09" fill="#77C266"/>
<rect x="378.2" y="365.44" width="6.02" height="3.05" fill="#E3262B"/>
<rect x="378.2" y="361.9" width="6.02" height="3.54" fill="#FDB96B"/>
<rect x="378.2" y="360.44" width="6.02" height="1.46" fill="#9872BD"/>
<rect x="378.2" y="359.59" width="6.02" height="0.85" fill="#DFD6A0"/>
<rect x="378.2" y="339.94" width="6.02" height="19.64" fill="#636363"/>
<rect x="378.2" y="290.9" width="6.02" height="49.04" fill="#BDBDBD"/>
<rect x="384.88" y="411.92" width="6.02" height="0.98" fill="#3B8BAA"/>
<rect x="384.88" y="410.46" width="6.02" height="1.46" fill="#77C266"/>
<rect x="384.88" y="409.48" width="6.02" height="0.98" fill="#E3262B"/>
<rect x="384.88" y="407.9" width="6.02" height="1.59" fill="#EF9350"/>
<rect x="384.88" y="403.99" width="6.02" height="3.9" fill="#DFD6A0"/>
<rect x="384.88" y="374.96" width="6.02" height="29.04" fill="#636363"/>
<rect x="384.88" y="290.9" width="6.02" height="84.06" fill="#BDBDBD"/>
<rect x="391.57" y="410.7" width="6.02" height="2.2" fill="#3B8BAA"/>
<rect x="391.57" y="403.02" width="6.02" height="7.69" fill="#77C266"/>
<rect x="391.57" y="401.55" width="6.02" height="1.46" fill="#EF9350"/>
<rect x="391.57" y="399.97" width="6.02" height="1.59" fill="#DFD6A0"/>
<rect x="391.57" y="394.11" width="6.02" height="5.86" fill="#636363"/>
<rect x="391.57" y="290.9" width="6.02" height="103.21" fill="#BDBDBD"/>
<rect x="398.25" y="410.46" width="6.02" height="2.44" fill="#3B8BAA"/>
<rect x="398.25" y="404.85" width="6.02" height="5.61" fill="#77C266"/>
<rect x="398.25" y="401.92" width="6.02" height="2.93" fill="#EF9350"/>
<rect x="398.25" y="399.48" width="6.02" height="2.44" fill="#9872BD"/>
<rect x="398.25" y="398.26" width="6.02" height="1.22" fill="#DFD6A0"/>
<rect x="398.25" y="377.76" width="6.02" height="20.5" fill="#636363"/>
<rect x="398.25" y="290.9" width="6.02" height="86.86" fill="#BDBDBD"/>
<rect x="404.93" y="409.24" width="6.02" height="3.66" fill="#3B8BAA"/>
<rect x="404.93" y="402.65" width="6.02" height="6.59" fill="#77C266"/>
<rect x="404.93" y="399.85" width="6.02" height="2.81" fill="#EF9350"/>
<rect x="404.93" y="397.04" width="6.02" height="2.81" fill="#9872BD"/>
<rect x="404.93" y="395.94" width="6.02" height="1.1" fill="#DFD6A0"/>
<rect x="404.93" y="379.96" width="6.02" height="15.98" fill="#636363"/>
<rect x="404.93" y="290.9" width="6.02" height="89.06" fill="#BDBDBD"/>
<rect x="411.62" y="409" width="6.02" height="3.9" fill="#A6CEE3"/>
<rect x="411.62" y="397.77" width="6.02" height="11.22" fill="#3B8BAA"/>
<rect x="411.62" y="391.55" width="6.02" height="6.22" fill="#77C266"/>
<rect x="411.62" y="389.72" width="6.02" height="1.83" fill="#E3262B"/>
<rect x="411.62" y="383.62" width="6.02" height="6.1" fill="#FDB96B"/>
<rect x="411.62" y="381.67" width="6.02" height="1.95" fill="#EF9350"/>
<rect x="411.62" y="372.64" width="6.02" height="9.03" fill="#9872BD"/>
<rect x="411.62" y="371.79" width="6.02" height="0.85" fill="#B0592A"/>
<rect x="411.62" y="321.77" width="6.02" height="50.02" fill="#636363"/>
<rect x="411.62" y="290.9" width="6.02" height="30.87" fill="#BDBDBD"/>
<rect x="418.3" y="404.97" width="6.02" height="7.93" fill="#A6CEE3"/>
<rect x="418.3" y="373.13" width="6.02" height="31.84" fill="#3B8BAA"/>
<rect x="418.3" y="350.44" width="6.02" height="22.69" fill="#77C266"/>
<rect x="418.3" y="346.53" width="6.02" height="3.9" fill="#E3262B"/>
<rect x="418.3" y="333.84" width="6.02" height="12.69" fill="#FDB96B"/>
<rect x="418.3" y="332.38" width="6.02" height="1.46" fill="#9872BD"/>
<rect x="418.3" y="330.55" width="6.02" height="1.83" fill="#B0592A"/>
<rect x="418.3" y="313.35" width="6.02" height="17.2" fill="#636363"/>
<rect x="418.3" y="290.9" width="6.02" height="22.45" fill="#BDBDBD"/>
<rect x="424.98" y="404.97" width="6.02" height="7.93" fill="#A6CEE3"/>
<rect x="424.98" y="380.33" width="6.02" height="24.64" fill="#3B8BAA"/>
<rect x="424.98" y="360.56" width="6.02" height="19.76" fill="#77C266"/>
<rect x="424.98" y="356.29" width="6.02" height="4.27" fill="#E3262B"/>
<rect x="424.98" y="349.83" width="6.02" height="6.47" fill="#FDB96B"/>
<rect x="424.98" y="346.41" width="6.02" height="3.42" fill="#9872BD"/>
<rect x="424.98" y="345.07" width="6.02" height="1.34" fill="#B0592A"/>
<rect x="424.98" y="323.84" width="6.02" height="21.23" fill="#636363"/>
<rect x="424.98" y="290.9" width="6.02" height="32.94" fill="#BDBDBD"/>
<rect x="431.67" y="404.97" width="6.02" height="7.93" fill="#A6CEE3"/>
<rect x="431.67" y="388.99" width="6.02" height="15.98" fill="#3B8BAA"/>
<rect x="431.67" y="370.44" width="6.02" height="18.54" fill="#77C266"/>
<rect x="431.67" y="366.42" width="6.02" height="4.03" fill="#E3262B"/>
<rect x="431.67" y="361.05" width="6.02" height="5.37" fill="#FDB96B"/>
<rect x="431.67" y="356.17" width="6.02" height="4.88" fill="#9872BD"/>
<rect x="431.67" y="355.32" width="6.02" height="0.85" fill="#B0592A"/>
<rect x="431.67" y="327.13" width="6.02" height="28.18" fill="#636363"/>
<rect x="431.67" y="290.9" width="6.02" height="36.23" fill="#BDBDBD"/>
<rect x="438.35" y="412.29" width="6.02" height="0.61" fill="#A6CEE3"/>
<rect x="438.35" y="409.48" width="6.02" height="2.81" fill="#77C266"/>
<rect x="438.35" y="331.4" width="6.02" height="78.08" fill="#EF9350"/>
<rect x="438.35" y="305.3" width="6.02" height="26.11" fill="#636363"/>
<rect x="438.35" y="290.9" width="6.02" height="14.4" fill="#BDBDBD"/>
<line x1="323.5" y1="413.1" x2="445.3" y2="413.1" stroke="#1a1a1a" stroke-width="1.07"/>
<line x1="327.74" y1="413.1" x2="327.74" y2="416.2" stroke="#333333" stroke-width="1.07"/>
<line x1="334.42" y1="413.1" x2="334.42" y2="416.2" stroke="#333333" stroke-width="1.07"/>
<line x1="341.11" y1="413.1" x2="341.11" y2="416.2" stroke="#333333" stroke-width="1.07"/>
<line x1="347.79" y1="413.1" x2="347.79" y2="416.2" stroke="#333333" stroke-width="1.07"/>
<line x1="354.47" y1="413.1" x2="354.47" y2="416.2" stroke="#333333" stroke-width="1.07"/>
<line x1="361.16" y1="413.1" x2="361.16" y2="416.2" stroke="#333333" stroke-width="1.07"/>
<line x1="367.84" y1="413.1" x2="367.84" y2="416.2" stroke="#333333" stroke-width="1.07"/>
<line x1="374.52" y1="413.1" x2="374.52" y2="416.2" stroke="#333333" stroke-width="1.07"/>
<line x1="381.21" y1="413.1" x2="381.21" y2="416.2" stroke="#333333" stroke-width="1.07"/>
<line x1="387.89" y1="413.1" x2="387.89" y2="416.2" stroke="#333333" stroke-width="1.07"/>
<line x1="394.57" y1="413.1" x2="394.57" y2="416.2" stroke="#333333" stroke-width="1.07"/>
<line x1="401.26" y1="413.1" x2="401.26" y2="416.2" stroke="#333333" stroke-width="1.07"/>
<line x1="407.94" y1="413.1" x2="407.94" y2="416.2" stroke="#333333" stroke-width="1.07"/>
<line x1="414.62" y1="413.1" x2="414.62" y2="416.2" stroke="#333333" stroke-width="1.07"/>
<line x1="421.31" y1="413.1" x2="421.31" y2="416.2" stroke="#333333" stroke-width="1.07"/>
<line x1="427.99" y1="413.1" x2="427.99" y2="416.2" stroke="#333333" stroke-width="1.07"/>
<line x1="434.67" y1="413.1" x2="434.67" y2="416.2" stroke="#333333" stroke-width="1.07"/>
<line x1="441.36" y1="413.1" x2="441.36" y2="416.2" stroke="#333333" stroke-width="1.07"/>
<line x1="67.5" y1="290.9" x2="67.5" y2="413.6" stroke="#1a1a1a" stroke-width="1.07"/>
<line x1="64.1" y1="412.9" x2="67.5" y2="412.9" stroke="#333333" stroke-width="1.07"/>
<text x="60.6" y="416.7" font-size="10.5" fill="#4d4d4d" text-anchor="end">0.00</text>
<line x1="64.1" y1="382.4" x2="67.5" y2="382.4" stroke="#333333" stroke-width="1.07"/>
<text x="60.6" y="386.2" font-size="10.5" fill="#4d4d4d" text-anchor="end">0.25</text>
<line x1="64.1" y1="351.9" x2="67.5" y2="351.9" stroke="#333333" stroke-width="1.07"/>
<text x="60.6" y="355.7" font-size="10.5" fill="#4d4d4d" text-anchor="end">0.50</text>
<line x1="64.1" y1="321.4" x2="67.5" y2="321.4" stroke="#333333" stroke-width="1.07"/>
<text x="60.6" y="325.2" font-size="10.5" fill="#4d4d4d" text-anchor="end">0.75</text>
<line x1="64.1" y1="290.9" x2="67.5" y2="290.9" stroke="#333333" stroke-width="1.07"/>
<text x="60.6" y="294.7" font-size="10.5" fill="#4d4d4d" text-anchor="end">1.00</text>
<text x="128.15" y="10.8" font-size="11.1" fill="#1a1a1a" text-anchor="middle">Italy</text>
<text x="255.75" y="10.8" font-size="11.1" fill="#1a1a1a" text-anchor="middle">France</text>
<text x="384.7" y="10.8" font-size="11.1" fill="#1a1a1a" text-anchor="middle">Vietnam</text>
<text x="0" y="0" font-size="11" fill="#1a1a1a" text-anchor="middle" transform="translate(452.0 79.25) rotate(90)">Phylum</text>
<text x="0" y="0" font-size="11" fill="#1a1a1a" text-anchor="middle" transform="translate(452.0 215.25) rotate(90)">Family</text>
<text x="0" y="0" font-size="11" fill="#1a1a1a" text-anchor="middle" transform="translate(452.0 351.9) rotate(90)">Genus</text>
<text x="20.8" y="12.4" font-size="17" font-weight="bold" fill="#000">a</text>
<text x="21.2" y="152.5" font-size="17" font-weight="bold" fill="#000">b</text>
<text x="20.6" y="287.6" font-size="17" font-weight="bold" fill="#000">c</text>
<text x="579.3" y="12.4" font-size="17" font-weight="bold" fill="#000">d</text>
<text x="579.3" y="152.8" font-size="17" font-weight="bold" fill="#000">e</text>
<text x="579.8" y="286.8" font-size="17" font-weight="bold" fill="#000">f</text>
<text x="0" y="0" font-size="13" fill="#000" text-anchor="middle" transform="translate(10.2 213.5) rotate(-90)">Relative</text>
<text x="0" y="0" font-size="13" fill="#000" text-anchor="middle" transform="translate(26.4 214.2) rotate(-90)">abundance</text>
<text x="258.8" y="433" font-size="13.6" fill="#000" text-anchor="middle">Sample</text>
<rect x="474.8" y="27.15" width="9.6" height="9.7" fill="#A6CEE3"/>
<text x="486" y="34.1" font-size="6" fill="#000" stroke="#000" stroke-width="0.14">Proteobacteria</text>
<rect x="474.8" y="37.45" width="9.6" height="9.7" fill="#3B8BAA"/>
<text x="486" y="44.4" font-size="6" fill="#000" stroke="#000" stroke-width="0.14">Bacteroidetes</text>
<rect x="474.8" y="47.75" width="9.6" height="9.7" fill="#77C266"/>
<text x="486" y="54.7" font-size="6" fill="#000" stroke="#000" stroke-width="0.14">Actinobacteria</text>
<rect x="474.8" y="58.05" width="9.6" height="9.7" fill="#B79A78"/>
<text x="486" y="65" font-size="6" fill="#000" stroke="#000" stroke-width="0.14">Firmicutes</text>
<rect x="474.8" y="68.35" width="9.6" height="9.7" fill="#E3262B"/>
<text x="486" y="75.3" font-size="6" fill="#000" stroke="#000" stroke-width="0.14">Elusimicrobia</text>
<rect x="474.8" y="78.65" width="9.6" height="9.7" fill="#FDB96B"/>
<text x="486" y="85.6" font-size="6" fill="#000" stroke="#000" stroke-width="0.14">Planctomycetes</text>
<rect x="474.8" y="88.95" width="9.6" height="9.7" fill="#EF9350"/>
<text x="486" y="95.9" font-size="6" fill="#000" stroke="#000" stroke-width="0.14">Chlamydiae</text>
<rect x="474.8" y="99.25" width="9.6" height="9.7" fill="#9872BD"/>
<text x="486" y="106.2" font-size="6" fill="#000" stroke="#000" stroke-width="0.14">Gemmatimonadetes</text>
<rect x="474.8" y="109.55" width="9.6" height="9.7" fill="#DFD6A0"/>
<text x="486" y="116.5" font-size="6" fill="#000" stroke="#000" stroke-width="0.14">Acidobacteria</text>
<rect x="474.8" y="119.85" width="9.6" height="9.7" fill="#B0592A"/>
<text x="486" y="126.8" font-size="6" fill="#000" stroke="#000" stroke-width="0.14">TM7</text>
<rect x="474.8" y="164.05" width="9.6" height="9.7" fill="#A6CEE3"/>
<text x="486" y="171" font-size="6" fill="#000" stroke="#000" stroke-width="0.14">Comamonadaceae</text>
<rect x="474.8" y="174.35" width="9.6" height="9.7" fill="#3B8BAA"/>
<text x="486" y="181.3" font-size="6" fill="#000" stroke="#000" stroke-width="0.14">Pseudomonadaceae</text>
<rect x="474.8" y="184.65" width="9.6" height="9.7" fill="#77C266"/>
<text x="486" y="191.6" font-size="6" fill="#000" stroke="#000" stroke-width="0.14">Porphyromonadaceae</text>
<rect x="474.8" y="194.95" width="9.6" height="9.7" fill="#B79A78"/>
<text x="486" y="201.9" font-size="6" fill="#000" stroke="#000" stroke-width="0.14">Oxalobacteraceae</text>
<rect x="474.8" y="205.25" width="9.6" height="9.7" fill="#E3262B"/>
<text x="486" y="212.2" font-size="6" fill="#000" stroke="#000" stroke-width="0.14">Rickettsiaceae</text>
<rect x="474.8" y="215.55" width="9.6" height="9.7" fill="#FDB96B"/>
<text x="486" y="222.5" font-size="6" fill="#000" stroke="#000" stroke-width="0.14">Moraxellaceae</text>
<rect x="474.8" y="225.85" width="9.6" height="9.7" fill="#EF9350"/>
<text x="486" y="232.8" font-size="6" fill="#000" stroke="#000" stroke-width="0.14">[Weeksellaceae]</text>
<rect x="474.8" y="236.15" width="9.6" height="9.7" fill="#9872BD"/>
<text x="486" y="243.1" font-size="6" fill="#000" stroke="#000" stroke-width="0.14">Sphingomonadaceae</text>
<rect x="474.8" y="246.45" width="9.6" height="9.7" fill="#DFD6A0"/>
<text x="486" y="253.4" font-size="6" fill="#000" stroke="#000" stroke-width="0.14">Enterobacteriaceae</text>
<rect x="474.8" y="256.75" width="9.6" height="9.7" fill="#B0592A"/>
<text x="486" y="263.7" font-size="6" fill="#000" stroke="#000" stroke-width="0.14">Acetobacteraceae</text>
<rect x="474.8" y="300.7" width="9.6" height="9.7" fill="#A6CEE3"/>
<text x="486" y="307.65" font-size="6" fill="#000" stroke="#000" stroke-width="0.14">Pseudomonas</text>
<rect x="474.8" y="311" width="9.6" height="9.7" fill="#3B8BAA"/>
<text x="486" y="317.95" font-size="6" fill="#000" stroke="#000" stroke-width="0.14">Dysgonomonas</text>
<rect x="474.8" y="321.3" width="9.6" height="9.7" fill="#77C266"/>
<text x="486" y="328.25" font-size="6" fill="#000" stroke="#000" stroke-width="0.14">Limnobacter</text>
<rect x="474.8" y="331.6" width="9.6" height="9.7" fill="#B79A78"/>
<text x="486" y="338.55" font-size="6" fill="#000" stroke="#000" stroke-width="0.14">Wolbachia</text>
<rect x="474.8" y="341.9" width="9.6" height="9.7" fill="#E3262B"/>
<text x="486" y="348.85" font-size="6" fill="#000" stroke="#000" stroke-width="0.14">Janthinobacterium</text>
<rect x="474.8" y="352.2" width="9.6" height="9.7" fill="#FDB96B"/>
<text x="486" y="359.15" font-size="6" fill="#000" stroke="#000" stroke-width="0.14">Chryseobacterium</text>
<rect x="474.8" y="362.5" width="9.6" height="9.7" fill="#EF9350"/>
<text x="486" y="369.45" font-size="6" fill="#000" stroke="#000" stroke-width="0.14">Acinetobacter</text>
<rect x="474.8" y="372.8" width="9.6" height="9.7" fill="#9872BD"/>
<text x="486" y="379.75" font-size="6" fill="#000" stroke="#000" stroke-width="0.14">Propionibacterium</text>
<rect x="474.8" y="383.1" width="9.6" height="9.7" fill="#DFD6A0"/>
<text x="486" y="390.05" font-size="6" fill="#000" stroke="#000" stroke-width="0.14">Ralstonia</text>
<rect x="474.8" y="393.4" width="9.6" height="9.7" fill="#B0592A"/>
<text x="486" y="400.35" font-size="6" fill="#000" stroke="#000" stroke-width="0.14">Flavobacterium</text>
<rect x="369" y="427.8" width="9.7" height="9.7" fill="#636363"/>
<text x="380.4" y="434.6" font-size="6" fill="#000" stroke="#000" stroke-width="0.14">Other</text>
<rect x="402.4" y="427.8" width="9.7" height="9.7" fill="#BDBDBD"/>
<text x="413.7" y="434.6" font-size="6" fill="#000" stroke="#000" stroke-width="0.14">Unclassified</text>
<line x1="610.3" y1="16" x2="610.3" y2="130.6" stroke="#1a1a1a" stroke-width="1.07"/>
<line x1="609.8" y1="130.1" x2="684.6" y2="130.1" stroke="#1a1a1a" stroke-width="1.07"/>
<line x1="624" y1="130.1" x2="624" y2="132.9" stroke="#333333" stroke-width="1.07"/>
<line x1="647.3" y1="130.1" x2="647.3" y2="132.9" stroke="#333333" stroke-width="1.07"/>
<line x1="670.6" y1="130.1" x2="670.6" y2="132.9" stroke="#333333" stroke-width="1.07"/>
<line x1="607.5" y1="127.9" x2="610.3" y2="127.9" stroke="#333333" stroke-width="1.07"/>
<text x="605.4" y="131.3" font-size="9.4" fill="#4d4d4d" text-anchor="end">0</text>
<line x1="607.5" y1="97.7" x2="610.3" y2="97.7" stroke="#333333" stroke-width="1.07"/>
<text x="605.4" y="101.1" font-size="9.4" fill="#4d4d4d" text-anchor="end">25</text>
<line x1="607.5" y1="67.5" x2="610.3" y2="67.5" stroke="#333333" stroke-width="1.07"/>
<text x="605.4" y="70.9" font-size="9.4" fill="#4d4d4d" text-anchor="end">50</text>
<line x1="607.5" y1="37.3" x2="610.3" y2="37.3" stroke="#333333" stroke-width="1.07"/>
<text x="605.4" y="40.7" font-size="9.4" fill="#4d4d4d" text-anchor="end">75</text>
<line x1="624" y1="112.7" x2="624" y2="114.2" stroke="#333" stroke-width="1.07"/>
<line x1="624" y1="122.4" x2="624" y2="125.5" stroke="#333" stroke-width="1.07"/>
<rect x="615.25" y="114.2" width="17.5" height="8.2" fill="#66C2A5" stroke="#333" stroke-width="1.07"/>
<line x1="615.25" y1="121.3" x2="632.75" y2="121.3" stroke="#333" stroke-width="2.1"/>
<line x1="647.3" y1="82.1" x2="647.3" y2="97.1" stroke="#333" stroke-width="1.07"/>
<line x1="647.3" y1="107.8" x2="647.3" y2="116.9" stroke="#333" stroke-width="1.07"/>
<rect x="638.55" y="97.1" width="17.5" height="10.7" fill="#FC8D62" stroke="#333" stroke-width="1.07"/>
<line x1="638.55" y1="104.1" x2="656.05" y2="104.1" stroke="#333" stroke-width="2.1"/>
<line x1="670.6" y1="38.9" x2="670.6" y2="68.7" stroke="#333" stroke-width="1.07"/>
<line x1="670.6" y1="90.4" x2="670.6" y2="113.3" stroke="#333" stroke-width="1.07"/>
<rect x="661.85" y="68.7" width="17.5" height="21.7" fill="#8DA0CB" stroke="#333" stroke-width="1.07"/>
<line x1="661.85" y1="80.6" x2="679.35" y2="80.6" stroke="#333" stroke-width="2.1"/>
<circle cx="626.6" cy="97.1" r="1.75" fill="#000"/>
<circle cx="622.9" cy="112.7" r="1.75" fill="#000"/>
<circle cx="624.5" cy="113.2" r="1.75" fill="#000"/>
<circle cx="622" cy="119.1" r="1.75" fill="#000"/>
<circle cx="624" cy="120" r="1.75" fill="#000"/>
<circle cx="625.2" cy="121.6" r="1.75" fill="#000"/>
<circle cx="623" cy="122.5" r="1.75" fill="#000"/>
<circle cx="625.3" cy="125" r="1.75" fill="#000"/>
<circle cx="624.2" cy="126.2" r="1.75" fill="#000"/>
<circle cx="646.1" cy="21.6" r="1.75" fill="#000"/>
<circle cx="649.1" cy="82.1" r="1.75" fill="#000"/>
<circle cx="645.8" cy="93.1" r="1.75" fill="#000"/>
<circle cx="645.8" cy="96.8" r="1.75" fill="#000"/>
<circle cx="648.5" cy="99" r="1.75" fill="#000"/>
<circle cx="648" cy="101" r="1.75" fill="#000"/>
<circle cx="647" cy="103" r="1.75" fill="#000"/>
<circle cx="646.7" cy="104.2" r="1.75" fill="#000"/>
<circle cx="647.6" cy="105.2" r="1.75" fill="#000"/>
<circle cx="647.3" cy="108.5" r="1.75" fill="#000"/>
<circle cx="646.3" cy="111.3" r="1.75" fill="#000"/>
<circle cx="645.8" cy="116.9" r="1.75" fill="#000"/>
<circle cx="671.6" cy="25.3" r="1.75" fill="#000"/>
<circle cx="668.5" cy="38.9" r="1.75" fill="#000"/>
<circle cx="671.6" cy="41.9" r="1.75" fill="#000"/>
<circle cx="671.2" cy="44.5" r="1.75" fill="#000"/>
<circle cx="672.8" cy="65.6" r="1.75" fill="#000"/>
<circle cx="671.5" cy="78.8" r="1.75" fill="#000"/>
<circle cx="672.5" cy="80" r="1.75" fill="#000"/>
<circle cx="670" cy="81.5" r="1.75" fill="#000"/>
<circle cx="671" cy="79.5" r="1.75" fill="#000"/>
<circle cx="670.5" cy="82.1" r="1.75" fill="#000"/>
<circle cx="670" cy="86.5" r="1.75" fill="#000"/>
<circle cx="668.8" cy="91.6" r="1.75" fill="#000"/>
<circle cx="669.3" cy="94.4" r="1.75" fill="#000"/>
<circle cx="672.9" cy="97.5" r="1.75" fill="#000"/>
<circle cx="669.3" cy="105.4" r="1.75" fill="#000"/>
<circle cx="671.4" cy="113.3" r="1.75" fill="#000"/>
<line x1="627.1" y1="7.1" x2="638.3" y2="7.1" stroke="#a8a8a8" stroke-width="1.07"/>
<line x1="656.3" y1="7.1" x2="668.6" y2="7.1" stroke="#a8a8a8" stroke-width="1.07"/>
<path d="M641.5 4.4L641.5 9.8M639.16 5.75L643.84 8.45M643.84 5.75L639.16 8.45" stroke="#000" stroke-width="0.85" fill="none"/>
<circle cx="641.5" cy="7.1" r="1.05" fill="#000"/>
<path d="M647.3 4.4L647.3 9.8M644.96 5.75L649.64 8.45M649.64 5.75L644.96 8.45" stroke="#000" stroke-width="0.85" fill="none"/>
<circle cx="647.3" cy="7.1" r="1.05" fill="#000"/>
<path d="M653.1 4.4L653.1 9.8M650.76 5.75L655.44 8.45M655.44 5.75L650.76 8.45" stroke="#000" stroke-width="0.85" fill="none"/>
<circle cx="653.1" cy="7.1" r="1.05" fill="#000"/>
<path d="M630.1 11L630.1 16.4M627.76 12.35L632.44 15.05M632.44 12.35L627.76 15.05" stroke="#000" stroke-width="0.85" fill="none"/>
<circle cx="630.1" cy="13.7" r="1.05" fill="#000"/>
<path d="M635.9 11L635.9 16.4M633.56 12.35L638.24 15.05M638.24 12.35L633.56 15.05" stroke="#000" stroke-width="0.85" fill="none"/>
<circle cx="635.9" cy="13.7" r="1.05" fill="#000"/>
<path d="M641.7 11L641.7 16.4M639.36 12.35L644.04 15.05M644.04 12.35L639.36 15.05" stroke="#000" stroke-width="0.85" fill="none"/>
<circle cx="641.7" cy="13.7" r="1.05" fill="#000"/>
<line x1="650.5" y1="13.7" x2="653.25" y2="13.7" stroke="#a8a8a8" stroke-width="1.07"/>
<line x1="665.45" y1="13.7" x2="668.6" y2="13.7" stroke="#a8a8a8" stroke-width="1.07"/>
<path d="M656.45 11L656.45 16.4M654.11 12.35L658.79 15.05M658.79 12.35L654.11 15.05" stroke="#000" stroke-width="0.85" fill="none"/>
<circle cx="656.45" cy="13.7" r="1.05" fill="#000"/>
<path d="M662.25 11L662.25 16.4M659.91 12.35L664.59 15.05M664.59 12.35L659.91 15.05" stroke="#000" stroke-width="0.85" fill="none"/>
<circle cx="662.25" cy="13.7" r="1.05" fill="#000"/>
<line x1="610.3" y1="158.4" x2="610.3" y2="271.9" stroke="#1a1a1a" stroke-width="1.07"/>
<line x1="609.8" y1="271.4" x2="684.6" y2="271.4" stroke="#1a1a1a" stroke-width="1.07"/>
<line x1="624" y1="271.4" x2="624" y2="274.2" stroke="#333333" stroke-width="1.07"/>
<line x1="647.3" y1="271.4" x2="647.3" y2="274.2" stroke="#333333" stroke-width="1.07"/>
<line x1="670.6" y1="271.4" x2="670.6" y2="274.2" stroke="#333333" stroke-width="1.07"/>
<line x1="607.5" y1="248.65" x2="610.3" y2="248.65" stroke="#333333" stroke-width="1.07"/>
<text x="605.4" y="252.05" font-size="9.4" fill="#4d4d4d" text-anchor="end">500</text>
<line x1="607.5" y1="224.6" x2="610.3" y2="224.6" stroke="#333333" stroke-width="1.07"/>
<text x="605.4" y="228" font-size="9.4" fill="#4d4d4d" text-anchor="end">1000</text>
<line x1="607.5" y1="200.55" x2="610.3" y2="200.55" stroke="#333333" stroke-width="1.07"/>
<text x="605.4" y="203.95" font-size="9.4" fill="#4d4d4d" text-anchor="end">1500</text>
<line x1="607.5" y1="176.5" x2="610.3" y2="176.5" stroke="#333333" stroke-width="1.07"/>
<text x="605.4" y="179.9" font-size="9.4" fill="#4d4d4d" text-anchor="end">2000</text>
<line x1="624" y1="254.3" x2="624" y2="257.7" stroke="#333" stroke-width="1.07"/>
<line x1="624" y1="264.6" x2="624" y2="266.6" stroke="#333" stroke-width="1.07"/>
<rect x="615.25" y="257.7" width="17.5" height="6.9" fill="#66C2A5" stroke="#333" stroke-width="1.07"/>
<line x1="615.25" y1="261.2" x2="632.75" y2="261.2" stroke="#333" stroke-width="2.1"/>
<line x1="647.3" y1="177.6" x2="647.3" y2="196.3" stroke="#333" stroke-width="1.07"/>
<line x1="647.3" y1="226.6" x2="647.3" y2="240.7" stroke="#333" stroke-width="1.07"/>
<rect x="638.55" y="196.3" width="17.5" height="30.3" fill="#FC8D62" stroke="#333" stroke-width="1.07"/>
<line x1="638.55" y1="203.1" x2="656.05" y2="203.1" stroke="#333" stroke-width="2.1"/>
<line x1="670.6" y1="163.7" x2="670.6" y2="190.4" stroke="#333" stroke-width="1.07"/>
<line x1="670.6" y1="215" x2="670.6" y2="249.1" stroke="#333" stroke-width="1.07"/>
<rect x="661.85" y="190.4" width="17.5" height="24.6" fill="#8DA0CB" stroke="#333" stroke-width="1.07"/>
<line x1="661.85" y1="207.3" x2="679.35" y2="207.3" stroke="#333" stroke-width="2.1"/>
<circle cx="624.8" cy="241.9" r="1.75" fill="#000"/>
<circle cx="625.2" cy="254.3" r="1.75" fill="#000"/>
<circle cx="622.7" cy="257.8" r="1.75" fill="#000"/>
<circle cx="624.3" cy="259.3" r="1.75" fill="#000"/>
<circle cx="625.5" cy="260.5" r="1.75" fill="#000"/>
<circle cx="624.8" cy="261.8" r="1.75" fill="#000"/>
<circle cx="626" cy="262.5" r="1.75" fill="#000"/>
<circle cx="622" cy="265.7" r="1.75" fill="#000"/>
<circle cx="623.4" cy="266.6" r="1.75" fill="#000"/>
<circle cx="624" cy="266.1" r="1.75" fill="#000"/>
<circle cx="649" cy="177.6" r="1.75" fill="#000"/>
<circle cx="648.5" cy="179.5" r="1.75" fill="#000"/>
<circle cx="647.7" cy="181.6" r="1.75" fill="#000"/>
<circle cx="648" cy="189.9" r="1.75" fill="#000"/>
<circle cx="648.8" cy="192" r="1.75" fill="#000"/>
<circle cx="646.4" cy="200.8" r="1.75" fill="#000"/>
<circle cx="647.3" cy="202" r="1.75" fill="#000"/>
<circle cx="647.2" cy="203.2" r="1.75" fill="#000"/>
<circle cx="646.8" cy="205.6" r="1.75" fill="#000"/>
<circle cx="647.2" cy="212.8" r="1.75" fill="#000"/>
<circle cx="646.7" cy="222.9" r="1.75" fill="#000"/>
<circle cx="648.5" cy="229.7" r="1.75" fill="#000"/>
<circle cx="647.6" cy="232" r="1.75" fill="#000"/>
<circle cx="646.7" cy="240.7" r="1.75" fill="#000"/>
<circle cx="672.4" cy="163.7" r="1.75" fill="#000"/>
<circle cx="669" cy="177.7" r="1.75" fill="#000"/>
<circle cx="669.5" cy="182.5" r="1.75" fill="#000"/>
<circle cx="669" cy="189.2" r="1.75" fill="#000"/>
<circle cx="670.5" cy="193" r="1.75" fill="#000"/>
<circle cx="669" cy="199" r="1.75" fill="#000"/>
<circle cx="671.5" cy="205" r="1.75" fill="#000"/>
<circle cx="670" cy="209" r="1.75" fill="#000"/>
<circle cx="671.3" cy="213.2" r="1.75" fill="#000"/>
<circle cx="669.3" cy="215.6" r="1.75" fill="#000"/>
<circle cx="670.5" cy="225.6" r="1.75" fill="#000"/>
<circle cx="671.4" cy="227.1" r="1.75" fill="#000"/>
<circle cx="668.7" cy="244.3" r="1.75" fill="#000"/>
<circle cx="670.5" cy="249.1" r="1.75" fill="#000"/>
<line x1="627.1" y1="148.3" x2="638.3" y2="148.3" stroke="#a8a8a8" stroke-width="1.07"/>
<line x1="656.3" y1="148.3" x2="668.6" y2="148.3" stroke="#a8a8a8" stroke-width="1.07"/>
<path d="M641.5 145.6L641.5 151M639.16 146.95L643.84 149.65M643.84 146.95L639.16 149.65" stroke="#000" stroke-width="0.85" fill="none"/>
<circle cx="641.5" cy="148.3" r="1.05" fill="#000"/>
<path d="M647.3 145.6L647.3 151M644.96 146.95L649.64 149.65M649.64 146.95L644.96 149.65" stroke="#000" stroke-width="0.85" fill="none"/>
<circle cx="647.3" cy="148.3" r="1.05" fill="#000"/>
<path d="M653.1 145.6L653.1 151M650.76 146.95L655.44 149.65M655.44 146.95L650.76 149.65" stroke="#000" stroke-width="0.85" fill="none"/>
<circle cx="653.1" cy="148.3" r="1.05" fill="#000"/>
<path d="M630.1 153L630.1 158.4M627.76 154.35L632.44 157.05M632.44 154.35L627.76 157.05" stroke="#000" stroke-width="0.85" fill="none"/>
<circle cx="630.1" cy="155.7" r="1.05" fill="#000"/>
<path d="M635.9 153L635.9 158.4M633.56 154.35L638.24 157.05M638.24 154.35L633.56 157.05" stroke="#000" stroke-width="0.85" fill="none"/>
<circle cx="635.9" cy="155.7" r="1.05" fill="#000"/>
<path d="M641.7 153L641.7 158.4M639.36 154.35L644.04 157.05M644.04 154.35L639.36 157.05" stroke="#000" stroke-width="0.85" fill="none"/>
<circle cx="641.7" cy="155.7" r="1.05" fill="#000"/>
<line x1="610.3" y1="300" x2="610.3" y2="413.4" stroke="#1a1a1a" stroke-width="1.07"/>
<line x1="609.8" y1="412.9" x2="684.6" y2="412.9" stroke="#1a1a1a" stroke-width="1.07"/>
<line x1="624" y1="412.9" x2="624" y2="415.7" stroke="#333333" stroke-width="1.07"/>
<line x1="647.3" y1="412.9" x2="647.3" y2="415.7" stroke="#333333" stroke-width="1.07"/>
<line x1="670.6" y1="412.9" x2="670.6" y2="415.7" stroke="#333333" stroke-width="1.07"/>
<line x1="607.5" y1="403.6" x2="610.3" y2="403.6" stroke="#333333" stroke-width="1.07"/>
<text x="605.4" y="407" font-size="9.4" fill="#4d4d4d" text-anchor="end">1</text>
<line x1="607.5" y1="375.2" x2="610.3" y2="375.2" stroke="#333333" stroke-width="1.07"/>
<text x="605.4" y="378.6" font-size="9.4" fill="#4d4d4d" text-anchor="end">2</text>
<line x1="607.5" y1="346.8" x2="610.3" y2="346.8" stroke="#333333" stroke-width="1.07"/>
<text x="605.4" y="350.2" font-size="9.4" fill="#4d4d4d" text-anchor="end">3</text>
<line x1="607.5" y1="318.4" x2="610.3" y2="318.4" stroke="#333333" stroke-width="1.07"/>
<text x="605.4" y="321.8" font-size="9.4" fill="#4d4d4d" text-anchor="end">4</text>
<line x1="624" y1="384" x2="624" y2="389.8" stroke="#333" stroke-width="1.07"/>
<line x1="624" y1="401.4" x2="624" y2="408.1" stroke="#333" stroke-width="1.07"/>
<rect x="615.25" y="389.8" width="17.5" height="11.6" fill="#66C2A5" stroke="#333" stroke-width="1.07"/>
<line x1="615.25" y1="397.7" x2="632.75" y2="397.7" stroke="#333" stroke-width="2.1"/>
<line x1="647.3" y1="304.8" x2="647.3" y2="317.6" stroke="#333" stroke-width="1.07"/>
<line x1="647.3" y1="344.2" x2="647.3" y2="379.4" stroke="#333" stroke-width="1.07"/>
<rect x="638.55" y="317.6" width="17.5" height="26.6" fill="#FC8D62" stroke="#333" stroke-width="1.07"/>
<line x1="638.55" y1="323.2" x2="656.05" y2="323.2" stroke="#333" stroke-width="2.1"/>
<line x1="670.6" y1="304.8" x2="670.6" y2="319.7" stroke="#333" stroke-width="1.07"/>
<line x1="670.6" y1="347.1" x2="670.6" y2="378.1" stroke="#333" stroke-width="1.07"/>
<rect x="661.85" y="319.7" width="17.5" height="27.4" fill="#8DA0CB" stroke="#333" stroke-width="1.07"/>
<line x1="661.85" y1="329.6" x2="679.35" y2="329.6" stroke="#333" stroke-width="2.1"/>
<circle cx="624" cy="338.4" r="1.75" fill="#000"/>
<circle cx="623.5" cy="384" r="1.75" fill="#000"/>
<circle cx="623" cy="388" r="1.75" fill="#000"/>
<circle cx="622" cy="395.9" r="1.75" fill="#000"/>
<circle cx="624.7" cy="396.8" r="1.75" fill="#000"/>
<circle cx="626.6" cy="396.8" r="1.75" fill="#000"/>
<circle cx="623.8" cy="400.5" r="1.75" fill="#000"/>
<circle cx="623.4" cy="403.2" r="1.75" fill="#000"/>
<circle cx="623" cy="406" r="1.75" fill="#000"/>
<circle cx="622.5" cy="408.1" r="1.75" fill="#000"/>
<circle cx="646.3" cy="304.8" r="1.75" fill="#000"/>
<circle cx="646.6" cy="307" r="1.75" fill="#000"/>
<circle cx="647" cy="311" r="1.75" fill="#000"/>
<circle cx="646.4" cy="313.5" r="1.75" fill="#000"/>
<circle cx="647.5" cy="318" r="1.75" fill="#000"/>
<circle cx="648" cy="321" r="1.75" fill="#000"/>
<circle cx="647.5" cy="323.5" r="1.75" fill="#000"/>
<circle cx="646.6" cy="327" r="1.75" fill="#000"/>
<circle cx="646.3" cy="333" r="1.75" fill="#000"/>
<circle cx="648" cy="356.5" r="1.75" fill="#000"/>
<circle cx="646.2" cy="371.5" r="1.75" fill="#000"/>
<circle cx="647.7" cy="379.4" r="1.75" fill="#000"/>
<circle cx="645.4" cy="398.3" r="1.75" fill="#000"/>
<circle cx="669" cy="304.8" r="1.75" fill="#000"/>
<circle cx="671" cy="313.7" r="1.75" fill="#000"/>
<circle cx="669.5" cy="319" r="1.75" fill="#000"/>
<circle cx="669" cy="321" r="1.75" fill="#000"/>
<circle cx="669.5" cy="327" r="1.75" fill="#000"/>
<circle cx="671" cy="329" r="1.75" fill="#000"/>
<circle cx="671" cy="334.5" r="1.75" fill="#000"/>
<circle cx="669" cy="346.4" r="1.75" fill="#000"/>
<circle cx="670" cy="346.5" r="1.75" fill="#000"/>
<circle cx="669.4" cy="352.6" r="1.75" fill="#000"/>
<circle cx="670" cy="354" r="1.75" fill="#000"/>
<circle cx="671" cy="371.5" r="1.75" fill="#000"/>
<circle cx="669.3" cy="378.1" r="1.75" fill="#000"/>
<line x1="627.1" y1="288.3" x2="638.3" y2="288.3" stroke="#a8a8a8" stroke-width="1.07"/>
<line x1="656.3" y1="288.3" x2="668.6" y2="288.3" stroke="#a8a8a8" stroke-width="1.07"/>
<path d="M641.5 285.6L641.5 291M639.16 286.95L643.84 289.65M643.84 286.95L639.16 289.65" stroke="#000" stroke-width="0.85" fill="none"/>
<circle cx="641.5" cy="288.3" r="1.05" fill="#000"/>
<path d="M647.3 285.6L647.3 291M644.96 286.95L649.64 289.65M649.64 286.95L644.96 289.65" stroke="#000" stroke-width="0.85" fill="none"/>
<circle cx="647.3" cy="288.3" r="1.05" fill="#000"/>
<path d="M653.1 285.6L653.1 291M650.76 286.95L655.44 289.65M655.44 286.95L650.76 289.65" stroke="#000" stroke-width="0.85" fill="none"/>
<circle cx="653.1" cy="288.3" r="1.05" fill="#000"/>
<path d="M630.1 293L630.1 298.4M627.76 294.35L632.44 297.05M632.44 294.35L627.76 297.05" stroke="#000" stroke-width="0.85" fill="none"/>
<circle cx="630.1" cy="295.7" r="1.05" fill="#000"/>
<path d="M635.9 293L635.9 298.4M633.56 294.35L638.24 297.05M638.24 294.35L633.56 297.05" stroke="#000" stroke-width="0.85" fill="none"/>
<circle cx="635.9" cy="295.7" r="1.05" fill="#000"/>
<path d="M641.7 293L641.7 298.4M639.36 294.35L644.04 297.05M644.04 294.35L639.36 297.05" stroke="#000" stroke-width="0.85" fill="none"/>
<circle cx="641.7" cy="295.7" r="1.05" fill="#000"/>
<text x="0" y="0" font-size="11" fill="#000" text-anchor="middle" transform="translate(574.2 72.5) rotate(-90)">Unclass. reads at</text>
<text x="0" y="0" font-size="11" fill="#000" text-anchor="middle" transform="translate(587.6 73.2) rotate(-90)">genus level %</text>
<text x="0" y="0" font-size="11" fill="#000" text-anchor="middle" transform="translate(579.2 212.8) rotate(-90)"># of observed OTUs</text>
<text x="0" y="0" font-size="11" fill="#000" text-anchor="middle" transform="translate(579.2 356.4) rotate(-90)">Shannon index</text>
<line x1="545.7" y1="421.8" x2="545.7" y2="435.5" stroke="#333" stroke-width="1.07"/>
<rect x="539.5" y="424.3" width="12.4" height="8.4" fill="#66C2A5" stroke="#333" stroke-width="1.07"/>
<line x1="539.5" y1="428.5" x2="551.9" y2="428.5" stroke="#333" stroke-width="1.07"/>
<circle cx="545.7" cy="428.5" r="1.6" fill="#000"/>
<text x="554.9" y="432.2" font-size="9" fill="#000">Italy</text>
<line x1="587.4" y1="421.8" x2="587.4" y2="435.5" stroke="#333" stroke-width="1.07"/>
<rect x="581.2" y="424.3" width="12.4" height="8.4" fill="#FC8D62" stroke="#333" stroke-width="1.07"/>
<line x1="581.2" y1="428.5" x2="593.6" y2="428.5" stroke="#333" stroke-width="1.07"/>
<circle cx="587.4" cy="428.5" r="1.6" fill="#000"/>
<text x="597.6" y="432.2" font-size="9" fill="#000">France</text>
<line x1="640.4" y1="421.8" x2="640.4" y2="435.5" stroke="#333" stroke-width="1.07"/>
<rect x="634.2" y="424.3" width="12.4" height="8.4" fill="#8DA0CB" stroke="#333" stroke-width="1.07"/>
<line x1="634.2" y1="428.5" x2="646.6" y2="428.5" stroke="#333" stroke-width="1.07"/>
<circle cx="640.4" cy="428.5" r="1.6" fill="#000"/>
<text x="650.4" y="432.2" font-size="9" fill="#000">Vietnam</text>
</svg>
</body></html>
